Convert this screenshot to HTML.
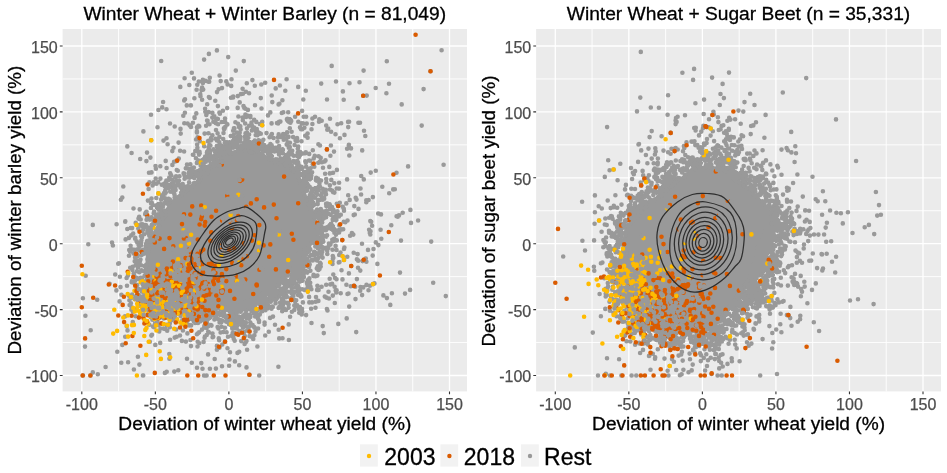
<!DOCTYPE html>
<html><head><meta charset="utf-8"><style>
html,body{margin:0;padding:0;background:#fff;}
svg{display:block;}
text{font-family:"Liberation Sans",Arial,sans-serif;}
.tk{font-size:16px;fill:#4D4D4D;stroke:#4D4D4D;stroke-width:0.25px;}
.tt{font-size:19.2px;fill:#000;stroke:#000;stroke-width:0.3px;}
.at{font-size:19.1px;fill:#000;stroke:#000;stroke-width:0.3px;}
.yt{font-size:18.75px;fill:#000;stroke:#000;stroke-width:0.3px;}
.lg{font-size:23px;fill:#000;stroke:#000;stroke-width:0.3px;}
</style></head><body>
<svg width="947" height="473" viewBox="0 0 947 473">
<defs><clipPath id="c0"><rect x="62.6" y="29.0" width="404.4" height="362.4"/></clipPath><clipPath id="c1"><rect x="536.1" y="29.0" width="404.9" height="362.4"/></clipPath></defs>
<rect x="62.6" y="29.0" width="404.4" height="362.4" fill="#EBEBEB"/>
<path d="M118.57 29.0V391.4M62.6 342.55H467.0M192.11 29.0V391.4M62.6 276.65H467.0M265.65 29.0V391.4M62.6 210.75H467.0M339.19 29.0V391.4M62.6 144.85H467.0M412.73 29.0V391.4M62.6 78.95H467.0" stroke="#FFFFFF" stroke-width="0.9" fill="none"/>
<path d="M81.80 29.0V391.4M62.6 375.50H467.0M155.34 29.0V391.4M62.6 309.60H467.0M228.88 29.0V391.4M62.6 243.70H467.0M302.42 29.0V391.4M62.6 177.80H467.0M375.96 29.0V391.4M62.6 111.90H467.0M449.50 29.0V391.4M62.6 46.00H467.0" stroke="#FFFFFF" stroke-width="1.3" fill="none"/>
<g clip-path="url(#c0)">
<path d="M215.9 161.4L205.9 172.4L205.1 173.1L193.1 183.1L192.8 183.4L181.0 192.3L169.3 202.1L161.1 217.7L160.9 218.0L150.5 236.0L145.9 255.2L145.0 270.4L144.0 289.9L144.7 297.7L155.0 305.3L169.2 307.0L185.5 306.0L186.5 306.0L203.5 307.0L204.1 307.1L204.7 307.2L221.2 310.9L236.8 308.3L252.7 301.7L268.2 294.0L278.7 287.8L286.3 278.5L292.0 268.2L292.3 267.7L299.3 256.7L299.7 256.1L300.1 255.6L300.6 255.1L310.6 246.1L311.6 245.3L318.1 241.0L319.8 234.6L318.2 225.8L315.4 215.5L311.6 206.1L306.7 195.3L306.4 194.5L306.2 193.6L304.4 184.8L299.3 175.5L292.1 166.6L272.0 158.4L271.4 158.1L270.8 157.8L259.2 150.7L240.6 148.2L221.0 153.9L216.7 160.4L216.3 160.9Z" fill="#999999"/>
<path d="M289 117h2v0.5h-2zM288.5 117.5h3v0.5h-3zM288 118h4v0.5h-4zM287 118.5h5.5v0.5h-5.5zM286.5 119h6v0.5h-6zM286 119.5h6.5v0.5h-6.5zM285.5 120h7v0.5h-7zM285.5 120.5h6.5v0.5h-6.5zM285.5 121h6v0.5h-6zM285.5 121.5h5.5v0.5h-5.5zM286 122h4v0.5h-4zM286.5 122.5h3v0.5h-3zM287 123h2v0.5h-2zM253.5 126.5h2.5v0.5h-2.5zM253 127h3.5v0.5h-3.5zM252.5 127.5h4.5v0.5h-4.5zM252 128h5.5v1h-5.5zM252 129h6v0.5h-6zM252 129.5h6.5v0.5h-6.5zM252.5 130h6.5v0.5h-6.5zM253 130.5h7v0.5h-7zM253.5 131h7v0.5h-7zM254 131.5h7v0.5h-7zM254 132h7.5v0.5h-7.5zM254.5 132.5h7v0.5h-7zM255 133h6.5v0.5h-6.5zM255.5 133.5h6v0.5h-6zM237 134h2v0.5h-2zM255 134h6v0.5h-6zM236.5 134.5h3v0.5h-3zM255 134.5h5.5v0.5h-5.5zM236 135h4v0.5h-4zM246 135h2v0.5h-2zM255 135h5v1h-5zM233.5 135.5h7v0.5h-7zM245.5 135.5h3.5v0.5h-3.5zM233 136h7.5v0.5h-7.5zM245 136h4.5v0.5h-4.5zM255.5 136h4v0.5h-4zM232.5 136.5h8v0.5h-8zM244.5 136.5h5.5v0.5h-5.5zM256 136.5h3v0.5h-3zM232 137h8.5v0.5h-8.5zM256.5 137h2v0.5h-2zM232 137.5h8v0.5h-8zM244.5 137h6v1.5h-6zM232 138h7.5v0.5h-7.5zM257.5 138h2v0.5h-2zM232 138.5h7v0.5h-7zM245 138.5h5.5v0.5h-5.5zM257 138.5h3.5v0.5h-3.5zM231.5 139h8v0.5h-8zM244.5 139h5.5v0.5h-5.5zM256.5 139h4.5v0.5h-4.5zM244 139.5h5.5v0.5h-5.5zM256 139.5h6.5v0.5h-6.5zM231 139.5h8.5v1h-8.5zM228.5 140h2v0.5h-2zM243.5 140h7.5v0.5h-7.5zM256 140h7v0.5h-7zM227 140.5h12.5v0.5h-12.5zM243 140.5h8.5v0.5h-8.5zM255.5 140.5h8v0.5h-8zM226.5 141h13v0.5h-13zM242.5 141h9.5v0.5h-9.5zM226 141.5h13v0.5h-13zM242 141.5h10.5v0.5h-10.5zM225.5 142h13v0.5h-13zM241.5 142h11v1h-11zM232.5 142.5h2v0.5h-2zM235 142.5h3v0.5h-3zM241.5 143h11.5v0.5h-11.5zM255 141h9v3h-9zM225.5 142.5h6.5v1.5h-6.5zM240 143.5h13.5v0.5h-13.5zM221 144h2v0.5h-2zM225 144h7.5v0.5h-7.5zM239.5 144h26.5v0.5h-26.5zM267.5 144h2v0.5h-2zM220.5 144.5h3v0.5h-3zM224.5 144.5h8.5v0.5h-8.5zM239 144.5h27.5v0.5h-27.5zM267 144.5h3v0.5h-3zM217.5 145h16v0.5h-16zM238.5 145h32v0.5h-32zM271 145h2v0.5h-2zM277 145h2v0.5h-2zM217 145.5h16.5v0.5h-16.5zM237.5 145.5h36v0.5h-36zM276.5 145.5h3v0.5h-3zM216.5 146h17v0.5h-17zM237 146h37v0.5h-37zM276 146h4v0.5h-4zM236.5 146.5h38v0.5h-38zM275.5 146.5h5v1h-5zM236 147h38.5v0.5h-38.5zM281.5 147h2v0.5h-2zM236 147.5h39v0.5h-39zM275.5 147.5h8.5v0.5h-8.5zM216 146.5h17.5v2h-17.5zM209 148h2v0.5h-2zM236 148h48.5v0.5h-48.5zM208.5 148.5h3v0.5h-3zM215 148.5h18.5v0.5h-18.5zM236 148.5h49v0.5h-49zM206.5 149h5.5v0.5h-5.5zM214.5 149h18.5v0.5h-18.5zM236.5 149h48.5v0.5h-48.5zM206 149.5h6.5v0.5h-6.5zM214 149.5h18.5v0.5h-18.5zM237 149.5h9.5v0.5h-9.5zM205.5 150h7v0.5h-7zM213.5 150h19v0.5h-19zM237 150h9v0.5h-9zM247 149.5h38v1.5h-38zM213.5 150.5h18.5v0.5h-18.5zM237.5 150.5h8v0.5h-8zM288 150.5h2v0.5h-2zM213.5 151h14.5v0.5h-14.5zM228.5 151h3v0.5h-3zM238 151h7v0.5h-7zM247.5 151h37v0.5h-37zM287.5 151h3v0.5h-3zM205 150.5h7.5v1.5h-7.5zM213.5 151.5h14v0.5h-14zM229 151.5h2v0.5h-2zM238.5 151.5h6v0.5h-6zM248 151.5h3v0.5h-3zM252 151.5h4.5v0.5h-4.5zM257.5 151.5h2.5v0.5h-2.5zM261 151.5h12.5v0.5h-12.5zM274.5 151.5h10v0.5h-10zM287 151.5h4v0.5h-4zM205 152h7v0.5h-7zM214 152h11.5v0.5h-11.5zM239 152h3v0.5h-3zM248.5 152h2v0.5h-2zM252.5 152h3.5v0.5h-3.5zM262 152h11.5v0.5h-11.5zM275 152h9.5v0.5h-9.5zM299 152h2v0.5h-2zM286.5 152h5v1h-5zM205.5 152.5h6v0.5h-6zM214 152.5h9.5v0.5h-9.5zM239.5 152.5h2v0.5h-2zM253 152.5h2.5v0.5h-2.5zM262.5 152.5h10.5v0.5h-10.5zM275.5 152.5h9v0.5h-9zM298.5 152.5h3v0.5h-3zM206 153h6v0.5h-6zM214.5 153h9.5v0.5h-9.5zM263 153h9.5v0.5h-9.5zM276.5 153h7.5v0.5h-7.5zM285 153h7v0.5h-7zM298 153h4v0.5h-4zM205.5 153.5h6.5v0.5h-6.5zM215 153.5h9v0.5h-9zM266 153.5h6.5v0.5h-6.5zM277 153.5h6.5v0.5h-6.5zM284.5 153.5h7.5v0.5h-7.5zM297.5 153.5h5v1h-5zM205 154h7v0.5h-7zM212.5 154h11.5v0.5h-11.5zM266 154h7v0.5h-7zM277.5 154h5.5v0.5h-5.5zM284 154h8v0.5h-8zM205 154.5h19v0.5h-19zM266 154.5h7.5v0.5h-7.5zM278 154.5h3v0.5h-3zM283.5 154.5h8.5v0.5h-8.5zM205 155h18.5v0.5h-18.5zM266.5 155h7.5v0.5h-7.5zM283.5 155h8v0.5h-8zM297 154.5h5.5v1.5h-5.5zM205 155.5h18v0.5h-18zM283.5 155.5h7.5v0.5h-7.5zM205 156h17.5v0.5h-17.5zM283 156h7.5v0.5h-7.5zM297 156h5v0.5h-5zM267 155.5h7v1.5h-7zM205.5 156.5h15v0.5h-15zM282.5 156.5h8v0.5h-8zM297.5 156.5h4v0.5h-4zM202.5 157h16.5v0.5h-16.5zM267 157h6.5v0.5h-6.5zM280.5 157h10v0.5h-10zM298 157h3v0.5h-3zM202 157.5h17v0.5h-17zM267.5 157.5h5.5v0.5h-5.5zM280 157.5h10.5v0.5h-10.5zM298.5 157.5h2v0.5h-2zM201.5 158h17v0.5h-17zM268 158h4.5v0.5h-4.5zM279.5 158h11.5v0.5h-11.5zM201 158.5h17.5v0.5h-17.5zM268.5 158.5h3.5v0.5h-3.5zM201 159h18v0.5h-18zM269.5 159h2v0.5h-2zM279 158.5h12.5v1.5h-12.5zM201 159.5h18.5v1h-18.5zM278.5 160h13v0.5h-13zM201.5 160.5h18v0.5h-18zM278 160.5h13v0.5h-13zM202 161h17.5v0.5h-17.5zM278 161h13.5v0.5h-13.5zM201.5 161.5h10v0.5h-10zM212 161.5h7v0.5h-7zM278 161.5h14v1h-14zM201 162h3v0.5h-3zM208 162h4v0.5h-4zM212.5 162h6v0.5h-6zM200.5 162.5h4v0.5h-4zM208.5 162.5h4v0.5h-4zM213 162.5h2v0.5h-2zM216 162.5h2v0.5h-2zM278.5 162.5h13.5v0.5h-13.5zM209 163h4v0.5h-4zM279 163h13v0.5h-13zM279.5 163.5h12.5v0.5h-12.5zM298 163.5h2v0.5h-2zM200 163h5v1.5h-5zM282 164h10v0.5h-10zM297.5 164h3v0.5h-3zM200 164.5h5.5v0.5h-5.5zM284.5 164.5h7.5v0.5h-7.5zM297 164.5h4v0.5h-4zM200.5 165h6.5v0.5h-6.5zM285 165h8v0.5h-8zM296.5 165h5v0.5h-5zM208.5 163.5h5v2.5h-5zM200.5 165.5h7v0.5h-7zM285.5 165.5h8v0.5h-8zM295 165.5h6.5v0.5h-6.5zM200 166h8v0.5h-8zM208.5 166h5.5v0.5h-5.5zM286 166h8v0.5h-8zM294.5 166h7v0.5h-7zM286.5 166.5h15v0.5h-15zM288 167h13v0.5h-13zM288.5 167.5h12v0.5h-12zM200 166.5h14v2h-14zM289 168h11v0.5h-11zM200.5 168.5h13v0.5h-13zM289 168.5h11.5v0.5h-11.5zM196.5 169h2v0.5h-2zM199.5 169h13.5v0.5h-13.5zM289.5 169h11v0.5h-11zM196 169.5h16.5v0.5h-16.5zM290 169.5h10.5v0.5h-10.5zM195.5 170h16v0.5h-16zM305 170h2v0.5h-2zM195 170.5h16.5v0.5h-16.5zM304.5 170.5h3v0.5h-3zM290.5 170h10v1.5h-10zM195 171h16v0.5h-16zM304 171h4v0.5h-4zM207.5 171.5h3v0.5h-3zM291 171.5h10v0.5h-10zM302 171.5h6.5v0.5h-6.5zM195 171.5h12v1h-12zM192.5 172h2v0.5h-2zM208 172h2v0.5h-2zM291.5 172h17v0.5h-17zM309 172h2v0.5h-2zM192 172.5h15v0.5h-15zM292 172.5h19.5v0.5h-19.5zM191.5 173h15.5v0.5h-15.5zM294.5 173h17.5v0.5h-17.5zM191 173.5h15.5v0.5h-15.5zM294 173.5h18.5v0.5h-18.5zM190 174h16v0.5h-16zM293.5 174h19.5v0.5h-19.5zM189.5 174.5h16.5v0.5h-16.5zM189 175h17v0.5h-17zM293.5 174.5h20v1.5h-20zM188.5 175.5h17.5v1h-17.5zM294 176h19.5v0.5h-19.5zM188.5 176.5h17v0.5h-17zM294.5 176.5h18.5v0.5h-18.5zM188.5 177h16.5v0.5h-16.5zM295 177h6v0.5h-6zM301.5 177h11v0.5h-11zM189 177.5h15.5v0.5h-15.5zM296 177.5h4.5v0.5h-4.5zM302 177.5h10.5v1h-10.5zM189.5 178h6v0.5h-6zM196.5 178h7v0.5h-7zM296.5 178h3.5v0.5h-3.5zM190 178.5h5v0.5h-5zM197 178.5h6v0.5h-6zM297 178.5h2.5v0.5h-2.5zM301.5 178.5h11v0.5h-11zM197.5 179h2v0.5h-2zM200.5 179h2v0.5h-2zM299.5 179h13v0.5h-13zM299 179.5h13.5v0.5h-13.5zM298.5 180h13.5v0.5h-13.5zM164.5 180.5h2v0.5h-2zM298 180.5h13.5v0.5h-13.5zM164 181h3v0.5h-3zM309 181h2v0.5h-2zM298 181h10.5v1h-10.5zM163 181.5h4.5v0.5h-4.5zM170.5 181.5h2v0.5h-2zM162.5 182h5.5v0.5h-5.5zM170 182h3.5v0.5h-3.5zM298 182h11v0.5h-11zM162 182.5h6.5v0.5h-6.5zM169.5 182.5h4.5v0.5h-4.5zM192.5 182.5h2v0.5h-2zM161.5 183h13v0.5h-13zM192 183h3v0.5h-3zM298.5 182.5h10.5v1.5h-10.5zM191.5 183.5h4v0.5h-4zM191 184h5v0.5h-5zM298.5 184h10v0.5h-10zM299 184.5h9v0.5h-9zM161.5 183.5h13.5v2h-13.5zM190.5 184.5h5.5v1h-5.5zM299 185h8.5v0.5h-8.5zM317 185h2v0.5h-2zM162 185.5h12.5v0.5h-12.5zM190 185.5h6v0.5h-6zM299.5 185.5h7v0.5h-7zM316.5 185.5h3v0.5h-3zM162.5 186h11.5v0.5h-11.5zM300 186h7v0.5h-7zM314 186h6v0.5h-6zM190 186h5.5v1h-5.5zM162.5 186.5h12v0.5h-12zM300.5 186.5h7v0.5h-7zM313.5 186.5h7v0.5h-7zM162.5 187h12.5v0.5h-12.5zM181.5 187h2v0.5h-2zM190 187h5v0.5h-5zM300.5 187h7.5v0.5h-7.5zM313 187h7.5v0.5h-7.5zM163 187.5h12v0.5h-12zM181 187.5h3v0.5h-3zM190.5 187.5h4v0.5h-4zM312.5 187.5h8v1h-8zM163.5 188h11.5v0.5h-11.5zM180.5 188h4v0.5h-4zM191 188h3v0.5h-3zM164 188.5h11v0.5h-11zM180 188.5h5v0.5h-5zM191.5 188.5h2v0.5h-2zM312.5 188.5h7.5v0.5h-7.5zM300.5 187.5h8v2h-8zM165 189h9.5v0.5h-9.5zM180 189h6v0.5h-6zM312.5 189h7v0.5h-7zM167 189.5h3v0.5h-3zM171 189.5h3.5v0.5h-3.5zM180 189.5h6.5v0.5h-6.5zM313 189.5h6v0.5h-6zM167.5 190h2v0.5h-2zM171.5 190h3.5v0.5h-3.5zM180 190h7v0.5h-7zM313.5 190h5v1h-5zM171.5 190.5h4v0.5h-4zM180 190.5h7.5v0.5h-7.5zM300.5 189.5h7.5v2h-7.5zM179.5 191h8v0.5h-8zM310 191h2v0.5h-2zM314 191h4v0.5h-4zM300.5 191.5h7v0.5h-7zM309.5 191.5h3v0.5h-3zM314.5 191.5h3v0.5h-3zM179 191.5h8.5v1h-8.5zM301 192h6v0.5h-6zM309 192h4v0.5h-4zM315 192h2v0.5h-2zM171 191h5v2h-5zM179 192.5h8v0.5h-8zM301.5 192.5h5v0.5h-5zM308.5 192.5h5v1h-5zM171.5 193h4v0.5h-4zM179 193h7.5v0.5h-7.5zM302 193h2.5v0.5h-2.5zM172 193.5h3v0.5h-3zM179.5 193.5h6.5v0.5h-6.5zM308 193.5h6v0.5h-6zM172.5 194h2v0.5h-2zM180 194h4v0.5h-4zM308 194h6.5v0.5h-6.5zM180.5 194.5h2v0.5h-2zM307.5 194.5h7.5v1.5h-7.5zM307 196h8v0.5h-8zM164.5 196.5h2.5v0.5h-2.5zM167.5 196.5h2v0.5h-2zM307 196.5h7.5v0.5h-7.5zM164 197h6v0.5h-6zM307 197h7v1h-7zM163.5 197.5h7v0.5h-7zM307.5 198h6.5v0.5h-6.5zM308 198.5h6v0.5h-6zM306.5 199h7.5v0.5h-7.5zM163 198h8v2h-8zM306 199.5h7.5v0.5h-7.5zM163.5 200h7.5v0.5h-7.5zM305.5 200h8.5v0.5h-8.5zM163.5 200.5h7v0.5h-7zM305 200.5h9.5v0.5h-9.5zM163.5 201h7.5v0.5h-7.5zM163.5 201.5h8v0.5h-8zM305 201h10v1.5h-10zM157 202h2v0.5h-2zM156.5 202.5h3v0.5h-3zM305.5 202.5h9.5v0.5h-9.5zM328 202.5h2.5v0.5h-2.5zM164 202h7.5v1.5h-7.5zM156 203h4v0.5h-4zM327 203h4v0.5h-4zM164.5 203.5h6.5v0.5h-6.5zM326.5 203.5h5v0.5h-5zM155.5 203.5h5v1h-5zM165 204h5.5v0.5h-5.5zM326 204h6v0.5h-6zM306 203h9.5v2h-9.5zM155.5 204.5h6v0.5h-6zM165.5 204.5h4.5v0.5h-4.5zM325.5 204.5h6.5v1h-6.5zM155.5 205h6.5v0.5h-6.5zM166 205h3v0.5h-3zM306.5 205h9v0.5h-9zM155.5 205.5h7v0.5h-7zM166.5 205.5h2v0.5h-2zM307 205.5h8.5v0.5h-8.5zM325.5 205.5h7v0.5h-7zM155.5 206h7.5v0.5h-7.5zM307.5 206h8v0.5h-8zM325.5 206h7.5v0.5h-7.5zM308 206.5h7v0.5h-7zM326 206.5h7.5v0.5h-7.5zM308 207h6.5v0.5h-6.5zM326.5 207h7.5v0.5h-7.5zM155 206.5h8v1.5h-8zM308.5 207.5h5.5v0.5h-5.5zM327 207.5h7.5v0.5h-7.5zM155 208h7.5v0.5h-7.5zM309 208h4v0.5h-4zM328 208h7v0.5h-7zM155 208.5h8v0.5h-8zM309.5 208.5h2v0.5h-2zM328.5 208.5h7v0.5h-7zM155.5 209h8v0.5h-8zM329 209h6.5v0.5h-6.5zM156 209.5h8v0.5h-8zM316.5 209.5h4v0.5h-4zM329.5 209.5h6v0.5h-6zM156.5 210h2v0.5h-2zM311 210h2v0.5h-2zM316 210h5v0.5h-5zM330.5 210h5v0.5h-5zM159 210h5v1h-5zM310.5 210.5h3v0.5h-3zM315.5 210.5h6v0.5h-6zM331 210.5h4v0.5h-4zM159 211h7.5v0.5h-7.5zM310 211h4v0.5h-4zM315 211h7v0.5h-7zM331.5 211h3v0.5h-3zM159.5 211.5h7.5v0.5h-7.5zM309.5 211.5h5v0.5h-5zM315 211.5h7.5v0.5h-7.5zM332 211.5h2v0.5h-2zM159 212h8.5v0.5h-8.5zM309.5 212h13.5v0.5h-13.5zM158.5 212.5h9.5v0.5h-9.5zM309.5 212.5h14v0.5h-14zM158 213h10v0.5h-10zM309.5 213h14.5v0.5h-14.5zM157.5 213.5h10.5v0.5h-10.5zM309.5 213.5h15v0.5h-15zM157 214h11v0.5h-11zM310 214h14.5v0.5h-14.5zM334.5 214h2v0.5h-2zM156.5 214.5h11.5v0.5h-11.5zM310.5 214.5h14v0.5h-14zM334 214.5h3v0.5h-3zM156 215h11.5v0.5h-11.5zM311 215h13.5v0.5h-13.5zM333.5 215h4v0.5h-4zM311.5 215.5h12.5v0.5h-12.5zM155.5 215.5h12v1h-12zM312 216h11.5v0.5h-11.5zM155.5 216.5h11.5v0.5h-11.5zM333 215.5h5v2h-5zM155.5 217h11v0.5h-11zM156 217.5h10v0.5h-10zM333.5 217.5h4v0.5h-4zM312.5 216.5h11.5v2h-11.5zM156.5 218h7v0.5h-7zM334 218h3.5v0.5h-3.5zM156 218.5h7.5v0.5h-7.5zM313 218.5h10.5v0.5h-10.5zM334 218.5h4v0.5h-4zM155.5 219h8.5v0.5h-8.5zM313.5 219h9.5v0.5h-9.5zM153 219.5h11v0.5h-11zM314 219.5h2v0.5h-2zM317 219.5h6v0.5h-6zM152.5 220h11.5v0.5h-11.5zM317.5 220h5.5v0.5h-5.5zM333.5 219h5v2h-5zM152 220.5h12v0.5h-12zM318 220.5h5v0.5h-5zM318.5 221h4v0.5h-4zM334 221h4v0.5h-4zM319 221.5h3v0.5h-3zM334.5 221.5h3v0.5h-3zM319.5 222h2v0.5h-2zM335 222h2v0.5h-2zM151.5 221h12v2h-12zM329 222.5h2v0.5h-2zM151.5 223h11.5v0.5h-11.5zM328.5 223h3v0.5h-3zM152 223.5h10.5v0.5h-10.5zM328 223.5h5.5v0.5h-5.5zM152.5 224h9.5v0.5h-9.5zM327.5 224h6.5v0.5h-6.5zM153 224.5h2.5v0.5h-2.5zM156.5 224.5h5.5v0.5h-5.5zM327.5 224.5h7v0.5h-7zM157 225h5v0.5h-5zM157.5 225.5h4v0.5h-4zM327.5 225h7.5v1.5h-7.5zM158 226h3v0.5h-3zM148.5 226.5h2v0.5h-2zM158.5 226.5h2v0.5h-2zM322 226.5h2v0.5h-2zM327 226.5h8v0.5h-8zM148 227h3v0.5h-3zM319 227h2v0.5h-2zM321.5 227h3v0.5h-3zM326.5 227h9v0.5h-9zM147.5 227.5h4v0.5h-4zM318.5 227.5h6.5v0.5h-6.5zM318 228h7.5v0.5h-7.5zM326.5 227.5h9.5v1.5h-9.5zM327 229h9v0.5h-9zM147 228h5v2h-5zM327.5 229.5h8v0.5h-8zM317.5 228.5h8v2h-8zM147.5 230h4v0.5h-4zM328 230h7.5v0.5h-7.5zM148 230.5h3v0.5h-3zM318 230.5h7v0.5h-7zM330 230.5h5v0.5h-5zM148.5 231h2v0.5h-2zM318.5 231h6v0.5h-6zM331 231h3.5v0.5h-3.5zM319 231.5h2v0.5h-2zM322 231.5h2v0.5h-2zM331.5 231.5h2.5v0.5h-2.5zM319 235.5h2.5v0.5h-2.5zM318.5 236h3.5v0.5h-3.5zM318 236.5h4.5v0.5h-4.5zM317.5 237h6v0.5h-6zM317.5 237.5h6.5v0.5h-6.5zM317.5 238h7v0.5h-7zM149 239.5h2v0.5h-2zM148.5 240h3v0.5h-3zM317 238.5h8v2.5h-8zM148 240.5h4v0.5h-4zM145.5 241h7v0.5h-7zM317 241h7.5v0.5h-7.5zM145 241.5h7.5v0.5h-7.5zM317.5 241.5h6.5v0.5h-6.5zM144.5 242h8v0.5h-8zM144 242.5h8.5v0.5h-8.5zM144 243h8v0.5h-8zM317.5 242h6v2h-6zM318 244h5v0.5h-5zM144 243.5h8.5v1.5h-8.5zM318.5 244.5h4v0.5h-4zM143.5 245h9v0.5h-9zM306 245.5h2.5v0.5h-2.5zM305.5 246h3.5v0.5h-3.5zM305 246.5h4.5v0.5h-4.5zM318 245h5v2.5h-5zM143.5 245.5h8.5v2.5h-8.5zM318.5 247.5h4v0.5h-4zM143.5 248h8v0.5h-8zM319 248h3v0.5h-3zM143.5 248.5h7.5v0.5h-7.5zM319.5 248.5h2v0.5h-2zM304.5 247h5.5v2.5h-5.5zM143.5 249h7v0.5h-7zM143 249.5h7.5v0.5h-7.5zM305 249.5h5v0.5h-5zM301.5 250h2v0.5h-2zM142.5 250h8v1h-8zM301 250.5h3v0.5h-3zM305 250h5.5v1.5h-5.5zM142.5 251h7.5v0.5h-7.5zM298 251h2v0.5h-2zM300.5 251h4v0.5h-4zM142.5 251.5h7v0.5h-7zM297.5 251.5h13v0.5h-13zM143 252h6v0.5h-6zM297 252h13.5v0.5h-13.5zM143.5 252.5h3v0.5h-3zM305.5 252.5h4.5v0.5h-4.5zM144 253h2v0.5h-2zM306 253h3.5v0.5h-3.5zM296.5 252.5h8.5v1.5h-8.5zM306.5 253.5h2.5v0.5h-2.5zM295.5 254h9v0.5h-9zM295 254.5h9v0.5h-9zM294.5 255h9v0.5h-9zM294 255.5h10v1.5h-10zM293.5 257h10.5v0.5h-10.5zM293 257.5h11v0.5h-11zM306 258h2.5v0.5h-2.5zM293 258h10.5v1h-10.5zM305.5 258.5h3.5v0.5h-3.5zM293 259h16.5v0.5h-16.5zM293.5 259.5h16.5v0.5h-16.5zM294 260h16v1h-16zM293 261h17v0.5h-17zM292.5 261.5h17v0.5h-17zM291.5 262h17.5v0.5h-17.5zM291 262.5h17.5v0.5h-17.5zM290.5 263h16.5v0.5h-16.5zM290 263.5h17.5v0.5h-17.5zM290 264h18v1h-18zM289.5 265h18.5v0.5h-18.5zM289 265.5h19v0.5h-19zM288.5 266h19v0.5h-19zM288.5 266.5h18.5v0.5h-18.5zM288.5 267h18v0.5h-18zM288.5 267.5h17.5v0.5h-17.5zM288.5 268h17v0.5h-17zM288.5 268.5h16.5v0.5h-16.5zM289 269h16v0.5h-16zM289.5 269.5h15.5v0.5h-15.5zM290 270h15v1h-15zM290 271h14.5v1h-14.5zM290.5 272h14v0.5h-14zM290 272.5h14.5v0.5h-14.5zM289.5 273h15v0.5h-15zM289 273.5h15v0.5h-15zM289 274h14.5v0.5h-14.5zM289 274.5h14v0.5h-14zM289 275h13v0.5h-13zM289 275.5h13.5v0.5h-13.5zM282 276h2v0.5h-2zM289.5 276h13.5v0.5h-13.5zM281.5 276.5h3v0.5h-3zM290 276.5h13v0.5h-13zM281 277h4v0.5h-4zM289.5 277h13.5v0.5h-13.5zM280.5 277.5h6v0.5h-6zM289 277.5h14v1h-14zM280.5 278h6.5v0.5h-6.5zM280.5 278.5h7.5v0.5h-7.5zM289 278.5h14.5v0.5h-14.5zM280.5 279h23.5v0.5h-23.5zM280.5 279.5h24v0.5h-24zM280 280h24.5v0.5h-24.5zM280 280.5h16v0.5h-16zM296.5 280.5h8v0.5h-8zM297 281h7.5v0.5h-7.5zM280 281h16.5v1h-16.5zM297.5 281.5h6.5v0.5h-6.5zM298 282h5.5v0.5h-5.5zM280.5 282h16v1h-16zM301 282.5h2v0.5h-2zM281 283h15v0.5h-15zM281.5 283.5h14.5v1h-14.5zM282 284.5h13.5v0.5h-13.5zM282.5 285h12.5v0.5h-12.5zM283 285.5h11.5v0.5h-11.5zM272.5 286h2v0.5h-2zM282.5 286h11.5v0.5h-11.5zM298 286h2v0.5h-2zM272 286.5h3.5v0.5h-3.5zM282 286.5h11.5v0.5h-11.5zM297.5 286.5h3v0.5h-3zM142 287h2v0.5h-2zM271.5 287h4.5v0.5h-4.5zM282 287h11v0.5h-11zM297 287h4v0.5h-4zM141.5 287.5h3v0.5h-3zM270 287.5h6.5v0.5h-6.5zM280.5 287.5h8.5v0.5h-8.5zM289.5 287.5h3v0.5h-3zM296.5 287.5h5v1h-5zM141 288h4v0.5h-4zM269.5 288h7.5v0.5h-7.5zM280 288h8.5v0.5h-8.5zM290 288h2v0.5h-2zM269 288.5h9v0.5h-9zM279.5 288.5h8.5v0.5h-8.5zM296 288.5h5.5v1h-5.5zM268.5 289h10v0.5h-10zM279 289h9v0.5h-9zM268.5 289.5h19v0.5h-19zM290 289.5h5.5v0.5h-5.5zM296 289.5h5v0.5h-5zM140.5 288.5h5v2h-5zM268.5 290h18.5v0.5h-18.5zM289.5 290h11.5v0.5h-11.5zM141 290.5h4v0.5h-4zM289 290.5h11.5v0.5h-11.5zM268.5 290.5h18v1h-18zM141.5 291h3v0.5h-3zM288.5 291h11.5v0.5h-11.5zM142 291.5h2v0.5h-2zM261.5 291.5h4.5v0.5h-4.5zM267 291.5h19.5v0.5h-19.5zM297.5 291.5h2v0.5h-2zM261 292h25.5v0.5h-25.5zM288.5 291.5h8.5v1.5h-8.5zM260.5 292.5h26v0.5h-26zM260 293h27v0.5h-27zM289 293h8v0.5h-8zM138 293.5h2v0.5h-2zM259.5 293.5h28v0.5h-28zM289.5 293.5h7v0.5h-7zM137.5 294h3v0.5h-3zM259 294h29v0.5h-29zM289.5 294h6.5v0.5h-6.5zM137 294.5h6.5v0.5h-6.5zM258 294.5h30v0.5h-30zM290 294.5h5.5v0.5h-5.5zM136.5 295h7.5v0.5h-7.5zM257.5 295h30.5v0.5h-30.5zM136.5 295.5h8v0.5h-8zM257 295.5h31v0.5h-31zM256.5 296h12.5v0.5h-12.5zM269.5 296h11v0.5h-11zM281.5 296h6.5v0.5h-6.5zM290.5 295h5v2h-5zM136.5 296h8.5v1h-8.5zM256.5 296.5h11v0.5h-11zM268 296.5h12v0.5h-12zM281.5 296.5h6v0.5h-6zM137 297h8v0.5h-8zM251.5 297h19v0.5h-19zM271.5 297h8v0.5h-8zM281.5 297h5.5v0.5h-5.5zM291 297h4v0.5h-4zM251 297.5h20v0.5h-20zM271.5 297.5h7.5v0.5h-7.5zM291.5 297.5h3v0.5h-3zM136.5 297.5h8.5v1h-8.5zM281.5 297.5h5v1h-5zM250 298h29v0.5h-29zM292 298h2v0.5h-2zM136.5 298.5h8v0.5h-8zM249.5 298.5h29.5v0.5h-29.5zM282 298.5h4v0.5h-4zM136.5 299h7.5v0.5h-7.5zM246.5 299h32.5v0.5h-32.5zM282.5 299h3v0.5h-3zM137 299.5h6.5v0.5h-6.5zM245.5 299.5h33v0.5h-33zM283 299.5h2v0.5h-2zM137.5 300h6v0.5h-6zM244 300h34v0.5h-34zM138 300.5h5v0.5h-5zM243.5 300.5h29.5v0.5h-29.5zM275 300.5h2.5v0.5h-2.5zM139.5 301h3v0.5h-3zM159.5 301h2.5v0.5h-2.5zM243 301h30v0.5h-30zM140 301.5h2v0.5h-2zM159 301.5h3.5v0.5h-3.5zM185 301.5h5.5v0.5h-5.5zM241 301.5h32v0.5h-32zM158.5 302h4.5v0.5h-4.5zM172.5 302h2v0.5h-2zM179 302h2v0.5h-2zM184.5 302h9v0.5h-9zM202.5 302h2v0.5h-2zM240.5 302h32v0.5h-32zM158 302.5h7.5v0.5h-7.5zM169 302.5h2v0.5h-2zM172 302.5h3v0.5h-3zM178.5 302.5h3v0.5h-3zM182.5 302.5h11.5v0.5h-11.5zM202 302.5h3v0.5h-3zM240 302.5h32v0.5h-32zM157.5 303h8.5v0.5h-8.5zM168.5 303h7v0.5h-7zM178 303h16.5v0.5h-16.5zM199.5 303h7v0.5h-7zM239.5 303h32v0.5h-32zM280 303h2.5v0.5h-2.5zM156.5 303.5h10v0.5h-10zM167 303.5h9v0.5h-9zM177 303.5h18v0.5h-18zM199 303.5h8v0.5h-8zM236.5 303.5h2v0.5h-2zM239.5 303.5h30v0.5h-30zM279.5 303.5h3.5v0.5h-3.5zM156 304h20v0.5h-20zM176.5 304h20.5v0.5h-20.5zM197.5 304h10v0.5h-10zM233 304h2v0.5h-2zM236 304h34v0.5h-34zM279 304h4.5v0.5h-4.5zM155.5 304.5h52.5v0.5h-52.5zM231 304.5h39.5v0.5h-39.5zM155 305h53v0.5h-53zM228 305h43v0.5h-43zM153.5 305.5h55v0.5h-55zM224.5 305.5h2v0.5h-2zM227 305.5h30.5v0.5h-30.5zM258 305.5h13v0.5h-13zM298 305.5h2.5v0.5h-2.5zM153 306h56v0.5h-56zM222 306h35.5v0.5h-35.5zM297.5 306h3.5v0.5h-3.5zM278.5 304.5h5.5v2.5h-5.5zM258.5 306h12.5v1h-12.5zM152.5 306.5h22.5v0.5h-22.5zM175.5 306.5h34v0.5h-34zM211.5 306.5h2v0.5h-2zM221.5 306.5h35.5v0.5h-35.5zM297 306.5h4.5v0.5h-4.5zM152 307h22.5v0.5h-22.5zM176 307h33.5v0.5h-33.5zM211 307h3v0.5h-3zM221 307h36.5v0.5h-36.5zM279 307h4.5v0.5h-4.5zM258.5 307h12v1h-12zM152 307.5h23v0.5h-23zM176.5 307.5h33v0.5h-33zM210.5 307.5h4.5v0.5h-4.5zM279.5 307.5h3.5v0.5h-3.5zM151.5 308h24v0.5h-24zM210 308h5.5v0.5h-5.5zM259 308h11.5v0.5h-11.5zM280 308h2.5v0.5h-2.5zM177 308h32.5v1h-32.5zM210 308.5h6v0.5h-6zM259.5 308.5h11v0.5h-11zM296.5 307h5.5v2.5h-5.5zM220.5 307.5h37.5v2h-37.5zM151 308.5h24.5v1h-24.5zM177 309h32v0.5h-32zM260 309h10v0.5h-10zM210 309h6.5v1h-6.5zM151 309.5h16v0.5h-16zM167.5 309.5h8v0.5h-8zM177.5 309.5h31v0.5h-31zM221 309.5h37v0.5h-37zM262.5 309.5h7v0.5h-7zM297 309.5h4.5v0.5h-4.5zM150.5 310h7.5v0.5h-7.5zM158.5 310h8v0.5h-8zM168 310h7v0.5h-7zM178 310h7.5v0.5h-7.5zM186 310h22v0.5h-22zM210 310h7v0.5h-7zM221 310h36.5v0.5h-36.5zM263 310h6v0.5h-6zM297.5 310h3.5v0.5h-3.5zM150 310.5h6.5v0.5h-6.5zM158.5 310.5h6.5v0.5h-6.5zM168.5 310.5h6v0.5h-6zM178.5 310.5h6.5v0.5h-6.5zM186.5 310.5h21.5v0.5h-21.5zM221.5 310.5h35.5v0.5h-35.5zM264.5 310.5h2v0.5h-2zM298 310.5h2.5v0.5h-2.5zM149.5 311h7v0.5h-7zM159 311h4v0.5h-4zM169 311h5v0.5h-5zM179.5 311h4v0.5h-4zM187 311h21v0.5h-21zM221 311h23v0.5h-23zM249.5 311h4v0.5h-4zM254.5 311h2v0.5h-2zM149 311.5h7v0.5h-7zM159.5 311.5h3v0.5h-3zM169.5 311.5h4v0.5h-4zM180 311.5h3v0.5h-3zM188.5 311.5h20v0.5h-20zM219.5 311.5h23.5v0.5h-23.5zM250 311.5h3v0.5h-3zM209.5 310.5h7.5v2h-7.5zM149 312h6.5v0.5h-6.5zM160 312h2v0.5h-2zM174.5 312h2.5v0.5h-2.5zM180.5 312h2v0.5h-2zM188.5 312h20.5v0.5h-20.5zM219 312h7v0.5h-7zM227.5 312h15.5v0.5h-15.5zM245 312h2v0.5h-2zM250.5 312h2v0.5h-2zM149 312.5h6v0.5h-6zM174 312.5h3.5v0.5h-3.5zM188.5 312.5h21v0.5h-21zM210 312.5h7v0.5h-7zM218.5 312.5h7.5v0.5h-7.5zM228 312.5h3v0.5h-3zM231.5 312.5h11v0.5h-11zM243 312.5h4.5v0.5h-4.5zM149 313h5v0.5h-5zM173.5 313h4.5v0.5h-4.5zM188.5 313h21.5v0.5h-21.5zM210.5 313h6v0.5h-6zM218 313h7.5v0.5h-7.5zM228.5 313h13.5v0.5h-13.5zM242.5 313h5.5v0.5h-5.5zM149.5 313.5h4v0.5h-4zM189 313.5h27v0.5h-27zM218 313.5h8v0.5h-8zM227.5 313.5h9.5v0.5h-9.5zM239.5 313.5h2v0.5h-2zM242 313.5h6.5v0.5h-6.5zM150 314h3v0.5h-3zM164.5 314h2v0.5h-2zM168.5 314h2.5v0.5h-2.5zM189.5 314h27v0.5h-27zM218 314h8.5v0.5h-8.5zM227 314h10v0.5h-10zM241.5 314h7v0.5h-7zM150.5 314.5h2v0.5h-2zM164 314.5h3.5v0.5h-3.5zM168 314.5h3.5v0.5h-3.5zM190 314.5h9v0.5h-9zM218 314.5h19.5v0.5h-19.5zM238 314.5h2v0.5h-2zM241 314.5h7.5v0.5h-7.5zM173 313.5h5.5v2h-5.5zM200.5 314.5h16.5v1h-16.5zM163.5 315h8.5v0.5h-8.5zM190.5 315h9v0.5h-9zM218 315h30.5v0.5h-30.5zM163 315.5h15v0.5h-15zM191 315.5h9v0.5h-9zM201 315.5h16v0.5h-16zM218.5 315.5h30v0.5h-30zM163 316h14.5v0.5h-14.5zM191.5 316h9v0.5h-9zM201.5 316h15.5v0.5h-15.5zM219 316h29v0.5h-29zM163 316.5h14v0.5h-14zM192 316.5h24.5v0.5h-24.5zM219.5 316.5h28v0.5h-28zM163 317h12v0.5h-12zM192 317h24v0.5h-24zM221.5 317h25.5v0.5h-25.5zM163.5 317.5h11.5v0.5h-11.5zM213.5 317.5h2v0.5h-2zM192 317.5h20.5v1h-20.5zM224 317.5h21v1h-21zM164 318h11v0.5h-11zM164.5 318.5h10.5v0.5h-10.5zM192.5 318.5h19.5v0.5h-19.5zM224 318.5h20.5v0.5h-20.5zM165.5 319h9v0.5h-9zM193 319h18.5v0.5h-18.5zM224.5 319h19.5v0.5h-19.5zM167.5 319.5h7v0.5h-7zM193.5 319.5h17.5v0.5h-17.5zM233.5 319.5h10.5v0.5h-10.5zM225 319.5h8v1h-8zM168 320h6.5v0.5h-6.5zM195 320h15v0.5h-15zM233.5 320h11v0.5h-11zM168.5 320.5h5.5v0.5h-5.5zM195 320.5h14.5v0.5h-14.5zM225.5 320.5h19.5v0.5h-19.5zM170.5 321h3v0.5h-3zM195 321h13.5v0.5h-13.5zM226 321h20v0.5h-20zM171 321.5h2v0.5h-2zM195 321.5h13v0.5h-13zM226.5 321.5h20v0.5h-20zM195.5 322h7v0.5h-7zM203.5 322h4v0.5h-4zM227.5 322h19.5v0.5h-19.5zM196 322.5h6v0.5h-6zM204 322.5h2.5v0.5h-2.5zM228 322.5h19.5v0.5h-19.5zM196.5 323h5v0.5h-5zM229.5 323h18v1h-18zM229 324h18.5v0.5h-18.5zM229 324.5h10.5v0.5h-10.5zM240 324.5h7v0.5h-7zM229 325h10v0.5h-10zM240 325h7.5v0.5h-7.5zM240.5 325.5h7v0.5h-7zM229 325.5h6.5v1h-6.5zM241 326h6.5v0.5h-6.5zM229.5 326.5h5.5v0.5h-5.5zM241.5 326.5h6v0.5h-6zM230 327h4.5v0.5h-4.5zM243 327h4v0.5h-4zM230.5 327.5h3.5v0.5h-3.5zM243.5 327.5h3v0.5h-3zM244 328h2v0.5h-2z" fill="#999999"/>
<path d="M161.2 61.0h0M191.8 72.7h0M184.6 78.2h0M216.9 50.4h0M228.2 57.1h0M194.0 78.4h0M208.9 53.9h0M209.8 77.7h0M204.1 59.6h0M219.6 75.5h0M243.8 61.1h0M235.8 70.6h0M331.7 65.9h0M363.6 70.6h0M386.8 61.3h0M441.6 50.2h0M430.5 71.3h0M190.9 105.4h0M189.3 85.0h0M166.5 109.3h0M163.1 102.0h0M162.2 107.4h0M185.0 99.2h0M180.3 86.9h0M186.8 105.4h0M158.4 110.0h0M184.2 100.4h0M209.8 97.9h0M200.5 96.3h0M218.6 89.3h0M215.3 100.8h0M203.2 89.6h0M217.0 92.1h0M208.4 81.8h0M205.1 108.7h0M196.6 89.7h0M202.9 82.9h0M220.7 81.1h0M205.3 111.8h0M197.3 84.7h0M202.8 79.9h0M205.7 80.7h0M227.2 108.0h0M226.3 81.4h0M227.6 84.4h0M222.0 88.1h0M194.4 98.2h0M217.9 106.1h0M202.1 87.5h0M198.8 81.6h0M207.2 104.3h0M208.9 97.0h0M202.1 99.7h0M209.2 81.8h0M222.9 110.7h0M201.5 90.1h0M200.3 94.3h0M252.4 80.1h0M255.0 105.2h0M237.7 107.9h0M254.8 85.7h0M242.6 88.7h0M240.9 94.1h0M265.2 82.7h0M246.8 83.3h0M245.9 91.7h0M231.2 85.9h0M243.5 106.0h0M245.2 108.6h0M242.9 93.7h0M249.1 93.3h0M261.5 108.5h0M239.7 102.4h0M261.3 84.5h0M260.8 98.1h0M237.8 96.1h0M244.2 107.7h0M233.1 97.5h0M231.0 97.7h0M247.9 109.9h0M231.5 79.2h0M233.2 96.6h0M271.7 95.5h0M279.9 85.5h0M302.1 110.9h0M275.7 88.4h0M279.4 103.8h0M278.6 104.4h0M286.6 79.2h0M285.3 90.8h0M282.4 100.2h0M272.3 102.1h0M298.2 86.9h0M336.0 81.5h0M327.0 99.5h0M305.8 90.7h0M321.2 83.6h0M303.3 99.5h0M343.7 99.8h0M366.7 95.6h0M357.7 108.3h0M359.5 82.3h0M342.9 91.4h0M375.7 88.0h0M349.5 83.3h0M363.2 95.7h0M401.7 104.4h0M389.0 83.8h0M386.4 93.2h0M423.6 89.1h0M151.0 114.8h0M151.2 140.2h0M143.4 131.4h0M180.5 128.9h0M167.6 144.3h0M184.3 123.2h0M187.6 123.5h0M189.7 125.4h0M191.0 126.9h0M178.6 142.6h0M166.5 138.2h0M157.5 127.3h0M180.7 133.6h0M184.9 112.7h0M183.3 115.8h0M163.5 140.6h0M174.7 126.5h0M170.0 123.5h0M212.3 117.6h0M216.4 118.9h0M204.6 133.6h0M196.9 131.2h0M217.5 119.0h0M218.1 124.3h0M194.6 118.0h0M221.8 122.0h0M227.4 124.4h0M206.3 115.0h0M217.9 119.0h0M216.9 140.4h0M213.4 121.7h0M219.3 142.2h0M196.9 132.4h0M208.5 133.2h0M196.1 139.5h0M196.3 113.4h0M225.5 142.3h0M197.1 144.5h0M219.4 136.9h0M219.4 112.6h0M211.1 138.0h0M225.0 118.5h0M211.5 139.7h0M199.3 126.4h0M219.9 113.7h0M215.7 123.1h0M208.6 112.1h0M223.9 128.2h0M212.4 112.9h0M194.5 117.3h0M207.1 120.5h0M214.3 116.2h0M206.1 125.7h0M212.4 135.4h0M216.0 130.0h0M215.8 138.8h0M207.6 120.9h0M208.6 140.9h0M224.6 128.5h0M224.1 129.3h0M209.5 124.3h0M225.1 122.0h0M199.9 141.3h0M198.4 125.8h0M223.5 133.0h0M225.3 126.7h0M192.9 122.7h0M197.0 127.4h0M260.8 133.8h0M256.3 131.3h0M254.8 140.5h0M262.2 121.9h0M250.3 117.2h0M251.9 130.4h0M256.8 129.0h0M238.0 123.7h0M245.2 123.5h0M233.9 128.3h0M250.4 116.1h0M236.8 132.6h0M238.7 134.0h0M230.7 136.0h0M245.3 139.0h0M240.3 126.2h0M242.7 117.5h0M239.4 137.1h0M262.2 125.2h0M234.4 128.4h0M254.1 127.5h0M246.1 116.9h0M240.3 141.4h0M240.6 129.4h0M254.2 119.8h0M249.1 134.5h0M233.6 135.1h0M240.3 138.9h0M245.4 114.6h0M247.7 134.0h0M239.0 126.9h0M251.8 125.3h0M249.2 125.8h0M247.0 128.3h0M251.5 122.5h0M242.8 120.2h0M253.1 127.8h0M244.8 136.8h0M247.8 115.7h0M245.1 116.8h0M247.0 132.5h0M235.4 122.2h0M233.2 130.7h0M259.9 124.0h0M240.3 136.8h0M238.4 116.5h0M266.5 133.1h0M298.3 121.7h0M287.1 132.4h0M271.6 123.4h0M301.1 129.3h0M270.3 112.4h0M285.3 134.0h0M281.8 113.0h0M283.2 134.1h0M283.7 139.7h0M289.6 121.9h0M278.0 137.2h0M302.3 129.2h0M300.0 127.4h0M297.2 140.9h0M286.7 144.6h0M283.3 112.2h0M291.2 121.1h0M277.5 141.5h0M269.6 137.2h0M297.1 138.9h0M279.2 121.7h0M301.6 123.4h0M286.9 119.2h0M287.7 142.2h0M290.4 122.7h0M291.6 131.8h0M283.6 136.0h0M277.0 123.1h0M287.4 118.7h0M280.5 136.9h0M301.5 141.3h0M288.2 112.2h0M268.0 115.4h0M293.1 137.1h0M289.9 142.7h0M295.1 116.8h0M280.4 121.6h0M295.6 140.6h0M297.0 138.0h0M289.8 128.2h0M271.3 135.0h0M278.1 123.5h0M306.1 116.7h0M303.7 116.8h0M304.4 127.8h0M337.5 124.2h0M331.1 131.8h0M321.7 120.7h0M319.3 119.2h0M319.0 121.7h0M307.6 137.8h0M318.4 144.2h0M326.2 125.6h0M335.5 134.3h0M315.0 116.7h0M312.4 118.5h0M327.3 129.7h0M307.6 133.5h0M306.7 123.6h0M302.9 123.4h0M312.4 124.0h0M330.0 118.7h0M328.2 128.5h0M311.5 129.3h0M365.3 136.0h0M348.1 121.9h0M348.2 127.1h0M364.0 130.8h0M341.2 123.3h0M348.9 144.8h0M339.9 138.3h0M344.5 134.9h0M358.4 122.8h0M349.1 121.7h0M360.0 122.7h0M421.7 125.6h0M149.0 172.7h0M147.0 152.6h0M150.4 157.6h0M127.3 146.4h0M140.2 159.0h0M151.5 172.4h0M146.4 161.1h0M131.6 153.0h0M178.8 158.5h0M166.6 168.0h0M174.1 161.8h0M175.3 177.4h0M176.0 161.3h0M180.1 150.8h0M179.5 176.2h0M160.3 166.2h0M170.2 173.3h0M155.5 166.1h0M169.3 177.5h0M184.1 151.5h0M187.0 164.5h0M172.4 164.9h0M177.2 160.6h0M172.3 151.1h0M155.9 168.7h0M177.8 170.7h0M176.8 170.0h0M171.2 175.4h0M186.9 177.3h0M165.7 160.9h0M183.6 173.2h0M176.1 176.3h0M173.5 147.7h0M191.6 174.1h0M188.6 176.3h0M196.9 162.9h0M193.4 154.8h0M208.5 170.7h0M196.7 151.3h0M198.4 160.6h0M210.2 151.2h0M214.3 165.9h0M204.2 146.2h0M200.0 170.0h0M205.8 161.8h0M202.2 160.2h0M215.0 152.0h0M192.9 154.8h0M207.5 173.2h0M213.0 163.6h0M215.7 152.3h0M223.1 154.2h0M205.5 175.1h0M199.5 151.8h0M193.9 167.5h0M216.8 146.1h0M203.9 176.9h0M209.3 145.1h0M216.6 162.8h0M199.7 153.2h0M216.5 162.4h0M196.0 158.2h0M225.5 152.4h0M200.8 162.6h0M195.2 171.7h0M213.5 165.3h0M206.9 152.8h0M208.6 147.6h0M197.4 147.7h0M199.1 154.6h0M195.3 151.0h0M209.0 149.2h0M208.8 171.6h0M233.7 145.6h0M235.9 146.8h0M244.9 150.9h0M230.5 153.6h0M250.0 151.7h0M251.8 152.2h0M257.2 151.6h0M262.2 153.1h0M298.1 162.4h0M294.7 162.4h0M284.8 164.1h0M298.2 146.5h0M271.7 145.4h0M277.5 159.5h0M293.6 171.5h0M302.3 168.0h0M279.1 146.0h0M293.9 155.7h0M299.0 157.1h0M298.2 156.6h0M279.7 163.9h0M300.2 152.0h0M285.4 165.2h0M275.3 147.8h0M290.7 165.8h0M269.2 158.9h0M294.6 145.0h0M325.1 173.8h0M320.0 145.5h0M325.5 160.4h0M312.1 172.2h0M302.8 153.5h0M323.0 167.8h0M321.9 162.3h0M310.5 168.3h0M334.0 151.6h0M314.7 155.9h0M307.9 171.0h0M318.3 162.7h0M312.8 150.2h0M311.9 172.3h0M308.3 168.7h0M326.9 149.4h0M329.8 173.4h0M320.7 157.9h0M303.6 175.7h0M324.6 161.5h0M309.2 153.9h0M319.8 161.9h0M330.9 145.5h0M309.0 160.5h0M329.3 166.9h0M336.9 169.9h0M313.7 158.4h0M330.4 155.8h0M348.8 145.6h0M370.7 172.6h0M347.1 148.7h0M361.2 176.0h0M349.3 155.5h0M375.8 170.8h0M362.2 150.4h0M351.0 148.4h0M408.1 166.4h0M396.5 172.7h0M443.6 164.8h0M148.6 189.0h0M133.5 208.5h0M153.7 182.4h0M152.6 185.5h0M151.8 202.7h0M122.3 197.5h0M139.7 209.4h0M151.1 203.6h0M120.9 199.7h0M147.9 200.6h0M123.3 186.5h0M149.4 182.4h0M188.1 186.0h0M158.4 193.4h0M177.2 185.1h0M174.3 194.0h0M160.4 178.6h0M166.4 180.5h0M179.0 197.1h0M170.2 191.6h0M156.3 198.0h0M164.2 203.4h0M162.9 206.8h0M156.5 183.8h0M168.1 180.3h0M181.5 186.5h0M175.6 189.9h0M165.0 210.7h0M165.2 190.5h0M161.1 199.6h0M158.2 182.3h0M161.8 184.8h0M190.7 187.9h0M171.9 179.8h0M179.0 180.8h0M173.7 181.9h0M172.0 191.8h0M180.5 187.6h0M194.7 183.8h0M198.9 181.4h0M198.5 180.4h0M194.2 178.1h0M299.7 180.7h0M299.2 180.0h0M317.1 209.6h0M336.7 188.5h0M304.2 195.2h0M326.0 194.3h0M329.9 185.2h0M311.4 191.8h0M320.8 199.8h0M315.9 180.1h0M303.7 193.7h0M317.9 201.3h0M312.3 191.7h0M339.1 182.8h0M332.1 190.5h0M336.8 203.7h0M329.9 209.3h0M321.0 180.6h0M325.6 191.8h0M325.8 189.7h0M326.1 203.9h0M327.2 203.6h0M321.0 195.6h0M332.0 207.1h0M334.3 183.2h0M326.2 179.0h0M307.0 189.5h0M311.8 188.8h0M320.8 209.1h0M306.6 200.1h0M317.2 194.6h0M319.4 183.5h0M314.7 197.8h0M321.8 193.2h0M334.4 192.6h0M317.7 204.1h0M339.0 188.6h0M326.3 182.5h0M319.7 186.1h0M326.3 206.1h0M309.8 187.1h0M338.2 206.0h0M316.2 177.9h0M318.7 179.8h0M333.2 192.3h0M330.0 189.5h0M310.8 210.7h0M316.8 193.7h0M331.3 179.9h0M324.5 191.0h0M366.3 202.2h0M348.2 195.3h0M349.7 199.9h0M347.1 179.4h0M368.6 200.0h0M361.1 194.5h0M343.8 208.9h0M344.0 210.7h0M372.9 197.1h0M339.8 202.7h0M366.3 200.2h0M356.5 199.6h0M360.5 188.5h0M354.3 206.1h0M363.8 179.4h0M358.5 208.9h0M346.3 203.4h0M342.7 206.7h0M389.2 193.3h0M410.4 209.9h0M382.3 186.8h0M394.8 189.3h0M393.2 189.4h0M112.0 242.6h0M116.6 224.2h0M92.8 224.9h0M141.4 225.8h0M152.1 235.4h0M138.5 218.6h0M150.4 238.7h0M148.0 229.1h0M140.7 219.5h0M151.1 227.4h0M135.7 222.9h0M151.1 231.3h0M144.9 227.3h0M148.3 231.3h0M151.4 217.3h0M133.2 233.6h0M147.5 240.8h0M153.9 224.0h0M125.2 221.7h0M147.0 241.3h0M139.2 216.8h0M141.4 240.3h0M130.7 228.0h0M125.6 239.4h0M149.3 235.7h0M147.4 231.2h0M154.1 211.5h0M138.3 228.6h0M149.8 241.2h0M125.3 221.2h0M147.0 227.0h0M153.3 219.2h0M132.1 228.1h0M158.1 214.3h0M156.5 229.9h0M156.9 229.6h0M334.3 211.6h0M331.1 223.7h0M337.4 216.7h0M324.2 236.1h0M318.0 233.5h0M322.2 222.6h0M317.0 227.8h0M338.9 216.4h0M339.0 230.1h0M320.9 231.0h0M323.8 218.2h0M326.1 217.3h0M336.0 234.6h0M333.0 212.3h0M321.8 236.0h0M333.6 240.9h0M336.8 240.4h0M327.1 235.3h0M332.7 219.3h0M334.3 238.8h0M327.8 227.1h0M315.5 222.3h0M333.7 212.3h0M317.2 228.0h0M332.4 241.5h0M330.5 214.7h0M339.1 232.4h0M334.4 232.7h0M326.7 210.9h0M324.5 214.3h0M325.6 227.9h0M333.4 217.4h0M336.7 213.4h0M318.7 231.3h0M328.4 213.7h0M337.5 211.3h0M322.1 231.5h0M321.5 226.8h0M372.1 225.8h0M353.3 234.6h0M351.9 233.0h0M342.3 240.1h0M371.2 221.7h0M345.3 222.3h0M341.9 229.4h0M339.3 225.4h0M340.8 214.8h0M370.3 234.5h0M369.8 233.1h0M375.8 242.4h0M370.3 221.0h0M369.1 229.7h0M347.5 220.5h0M350.1 235.8h0M353.7 215.1h0M370.5 231.3h0M354.8 214.5h0M343.2 229.2h0M397.7 216.7h0M380.6 229.7h0M401.0 240.6h0M402.7 212.7h0M381.0 214.4h0M391.3 225.2h0M396.6 216.3h0M381.3 238.7h0M411.0 222.9h0M399.0 215.4h0M378.2 213.5h0M431.2 241.6h0M418.1 220.5h0M88.3 244.2h0M85.7 275.8h0M131.6 249.1h0M132.8 266.7h0M137.9 267.6h0M147.5 259.3h0M145.8 269.2h0M130.6 245.8h0M140.9 245.4h0M135.1 257.6h0M130.2 267.7h0M139.1 250.1h0M145.7 252.3h0M130.0 251.6h0M137.0 254.3h0M142.7 250.0h0M133.7 273.6h0M141.6 254.9h0M135.7 265.1h0M146.0 245.3h0M118.9 263.2h0M289.8 268.8h0M286.5 274.3h0M288.6 271.8h0M328.0 247.6h0M320.0 262.9h0M307.3 272.6h0M303.7 273.9h0M327.3 254.0h0M314.3 251.8h0M319.5 268.9h0M322.6 257.6h0M317.8 266.2h0M328.2 248.1h0M315.4 276.2h0M316.8 268.4h0M320.7 263.7h0M317.4 275.6h0M333.3 274.5h0M323.2 248.8h0M303.2 276.6h0M338.8 262.4h0M327.2 250.7h0M310.4 270.8h0M321.6 253.9h0M320.7 266.6h0M329.1 245.3h0M320.5 247.1h0M312.8 260.4h0M318.0 248.4h0M309.2 245.6h0M332.5 249.7h0M309.6 256.2h0M308.0 248.2h0M335.6 245.9h0M313.6 274.8h0M321.2 253.4h0M318.2 258.1h0M330.4 244.4h0M322.2 252.0h0M313.4 276.0h0M304.9 253.2h0M306.4 266.0h0M321.7 246.7h0M305.9 271.0h0M303.8 255.9h0M333.2 257.2h0M323.6 247.8h0M318.4 270.0h0M332.9 258.7h0M321.7 256.5h0M332.5 263.9h0M309.7 264.4h0M332.8 256.1h0M307.5 272.0h0M309.4 250.7h0M307.2 259.0h0M332.4 261.6h0M340.5 252.5h0M360.3 270.6h0M357.6 254.1h0M358.0 267.8h0M364.6 259.6h0M344.0 259.9h0M368.0 249.9h0M344.4 247.5h0M351.2 266.0h0M362.0 243.7h0M353.7 252.7h0M348.9 273.4h0M341.5 270.2h0M365.8 258.5h0M373.5 249.0h0M347.3 256.7h0M366.4 261.7h0M339.5 262.0h0M372.7 255.6h0M342.6 256.3h0M356.9 259.3h0M362.6 261.1h0M358.2 260.7h0M344.0 249.0h0M357.7 260.0h0M377.4 263.9h0M400.0 272.6h0M378.4 245.1h0M97.2 299.7h0M82.9 298.2h0M109.6 283.7h0M152.0 301.9h0M131.7 282.2h0M148.6 306.0h0M136.2 289.6h0M144.9 283.8h0M146.2 287.9h0M151.7 300.2h0M131.0 297.0h0M119.6 301.4h0M134.7 299.1h0M141.4 289.8h0M136.3 309.2h0M146.8 299.7h0M121.4 294.8h0M138.4 304.9h0M135.3 280.4h0M146.2 281.8h0M119.9 276.7h0M142.9 298.8h0M138.3 296.7h0M131.8 281.4h0M135.9 309.1h0M175.4 304.4h0M175.6 309.5h0M217.8 308.0h0M214.5 307.1h0M220.9 309.4h0M256.4 309.0h0M300.0 307.0h0M299.1 309.2h0M280.2 289.6h0M279.3 296.3h0M302.0 308.9h0M301.4 296.4h0M296.2 300.2h0M300.2 307.9h0M280.0 307.5h0M278.6 308.0h0M272.8 307.0h0M298.4 287.6h0M294.3 305.5h0M295.6 287.5h0M276.0 299.6h0M296.4 306.1h0M299.8 281.6h0M288.6 304.5h0M286.3 297.1h0M298.8 291.5h0M283.6 301.2h0M299.5 281.1h0M279.4 306.9h0M298.0 285.9h0M296.0 283.8h0M287.9 291.7h0M295.2 301.6h0M280.5 288.6h0M286.8 296.7h0M283.8 308.3h0M297.2 305.2h0M274.6 299.7h0M291.4 299.9h0M298.1 295.0h0M270.7 301.8h0M287.9 302.7h0M300.1 280.9h0M295.2 306.2h0M279.4 284.2h0M302.2 289.2h0M300.7 295.1h0M278.0 285.6h0M300.2 294.5h0M288.6 307.7h0M291.7 288.8h0M280.1 302.6h0M307.7 287.3h0M312.0 302.4h0M326.4 297.6h0M315.7 301.7h0M326.2 284.8h0M316.0 297.0h0M336.3 292.4h0M318.6 289.9h0M324.8 296.6h0M318.4 300.9h0M317.1 289.9h0M334.6 286.7h0M330.4 284.4h0M326.9 309.1h0M321.6 286.8h0M334.8 303.0h0M336.5 279.3h0M307.2 284.1h0M304.7 289.9h0M309.3 302.4h0M329.7 278.7h0M328.5 291.8h0M335.1 278.0h0M310.5 286.5h0M317.4 285.7h0M329.0 298.5h0M307.7 280.2h0M311.4 289.3h0M336.6 290.4h0M332.1 283.7h0M332.8 295.6h0M311.1 308.7h0M335.7 290.5h0M310.2 282.7h0M309.1 296.9h0M307.8 291.6h0M302.9 302.4h0M302.5 280.6h0M315.5 307.7h0M306.9 282.7h0M349.2 306.6h0M355.2 286.7h0M347.5 294.0h0M342.5 279.4h0M346.4 284.7h0M374.5 283.4h0M360.2 290.7h0M350.8 286.2h0M369.9 285.8h0M368.5 290.2h0M360.5 287.0h0M340.7 293.2h0M348.5 293.5h0M356.9 279.1h0M363.2 287.4h0M366.5 284.9h0M355.5 299.1h0M354.0 285.9h0M362.1 295.1h0M373.0 284.1h0M386.9 298.1h0M405.0 293.6h0M383.4 295.4h0M390.3 304.9h0M391.9 293.2h0M410.1 289.9h0M433.2 282.8h0M445.8 296.1h0M90.7 330.2h0M85.4 315.7h0M148.2 314.7h0M125.0 316.4h0M127.5 330.4h0M153.1 326.6h0M132.8 322.0h0M154.5 310.3h0M153.7 319.0h0M150.8 317.2h0M132.9 311.8h0M154.1 327.3h0M149.8 341.7h0M151.3 335.6h0M131.4 309.7h0M125.2 336.8h0M154.8 324.7h0M152.0 334.8h0M149.3 324.8h0M155.0 323.5h0M126.7 326.2h0M135.7 316.2h0M191.1 325.4h0M166.8 314.0h0M163.7 328.6h0M175.0 310.0h0M159.1 315.8h0M183.2 322.6h0M167.2 330.7h0M166.3 314.2h0M158.3 325.0h0M169.8 327.3h0M170.5 320.9h0M176.6 336.8h0M182.9 311.4h0M174.2 317.4h0M191.4 318.7h0M182.9 330.5h0M186.7 313.2h0M185.9 341.6h0M184.2 319.8h0M159.2 331.4h0M187.5 320.7h0M160.7 316.7h0M157.3 321.8h0M159.6 318.0h0M175.5 321.3h0M160.5 328.5h0M158.9 310.3h0M181.9 340.9h0M169.8 323.5h0M189.2 325.4h0M170.1 339.8h0M182.3 320.2h0M174.4 317.1h0M155.7 318.0h0M163.8 318.4h0M187.4 333.4h0M186.9 320.9h0M176.1 329.5h0M166.8 324.9h0M195.1 322.9h0M228.0 336.8h0M204.4 325.7h0M226.3 321.7h0M205.0 322.7h0M221.3 322.2h0M221.3 320.3h0M206.7 335.0h0M199.1 332.2h0M224.9 327.7h0M208.2 326.2h0M197.7 341.8h0M218.4 319.2h0M217.6 327.0h0M203.6 341.9h0M211.5 325.6h0M193.7 321.3h0M223.4 332.0h0M204.9 336.6h0M226.6 332.3h0M218.8 338.4h0M219.2 340.2h0M207.3 323.7h0M209.7 312.7h0M208.2 331.7h0M224.8 341.4h0M198.0 323.0h0M218.5 312.7h0M192.7 318.7h0M204.0 327.8h0M220.6 332.5h0M220.1 315.0h0M213.2 336.7h0M219.6 322.4h0M210.9 325.1h0M222.6 320.7h0M198.0 333.3h0M212.5 333.6h0M212.6 337.2h0M208.9 332.4h0M218.4 328.4h0M204.6 337.7h0M206.8 322.1h0M231.2 312.6h0M265.4 310.2h0M247.1 330.5h0M258.8 309.6h0M231.0 324.1h0M259.8 314.4h0M233.1 321.1h0M246.5 341.0h0M234.1 332.7h0M265.2 335.5h0M236.7 328.5h0M247.9 326.8h0M241.2 341.1h0M258.1 328.5h0M255.2 312.1h0M232.3 328.6h0M237.3 325.5h0M258.4 316.0h0M259.0 320.6h0M233.9 328.0h0M236.6 313.6h0M244.7 322.3h0M264.6 324.6h0M229.0 324.3h0M232.7 333.1h0M254.4 335.3h0M255.5 331.5h0M249.5 331.5h0M249.4 314.7h0M246.2 311.0h0M244.2 332.1h0M250.3 316.9h0M252.6 325.0h0M251.6 311.1h0M254.6 327.8h0M250.3 325.8h0M242.9 327.7h0M250.3 322.5h0M233.7 335.0h0M238.0 333.7h0M231.4 335.8h0M261.9 311.2h0M253.2 339.0h0M246.3 318.1h0M259.0 322.0h0M245.8 314.0h0M248.4 328.6h0M249.6 336.1h0M245.7 342.2h0M254.1 327.1h0M244.8 336.1h0M256.1 328.9h0M255.1 316.5h0M241.5 325.0h0M256.4 313.0h0M233.7 338.7h0M239.7 331.0h0M251.1 336.6h0M247.9 318.3h0M258.0 318.7h0M270.1 317.9h0M290.1 316.8h0M291.9 311.7h0M288.9 340.0h0M299.2 312.7h0M268.8 331.7h0M294.3 310.0h0M282.2 311.2h0M301.7 314.4h0M278.7 329.8h0M275.0 324.8h0M282.5 338.2h0M288.7 324.4h0M302.2 311.7h0M286.0 310.0h0M338.3 323.9h0M306.1 315.1h0M322.7 326.1h0M327.5 310.5h0M311.5 323.0h0M323.8 333.1h0M346.7 318.4h0M356.2 332.1h0M97.8 374.3h0M92.8 372.4h0M105.6 367.0h0M117.3 351.7h0M85.0 346.6h0M122.3 344.9h0M128.1 362.3h0M137.9 356.7h0M121.3 362.8h0M139.4 364.6h0M133.9 369.5h0M169.3 354.0h0M178.3 370.3h0M169.4 358.7h0M191.0 346.1h0M166.7 371.8h0M160.2 342.9h0M164.9 372.9h0M191.8 362.7h0M174.3 371.6h0M187.0 358.8h0M201.3 363.1h0M227.5 348.3h0M216.9 349.8h0M197.5 346.5h0M219.5 347.6h0M202.5 368.8h0M197.0 367.7h0M209.9 368.8h0M222.0 366.2h0M216.9 345.9h0M214.7 359.0h0M222.3 344.5h0M215.9 368.6h0M208.1 354.4h0M239.2 365.2h0M246.5 367.4h0M229.1 365.7h0M237.5 352.9h0M239.2 351.8h0M230.0 352.2h0M234.9 361.4h0M249.4 374.8h0M247.1 349.8h0M229.5 359.5h0M257.4 346.5h0M278.4 366.8h0M90.4 375.5h0M82.7 375.5h0M83.0 375.5h0M143.2 375.5h0M142.9 375.5h0M206.6 375.5h0M204.0 375.5h0M259.2 375.5h0M136.2 256.6h0M310.3 249.3h0M180.0 335.5h0M149.2 248.5h0M147.7 309.0h0M325.9 230.3h0M139.5 250.0h0M135.1 238.8h0M314.1 252.0h0M133.5 253.5h0M208.9 166.6h0M137.7 289.7h0M142.6 304.8h0M128.7 295.6h0M165.5 329.1h0M155.7 178.5h0M316.1 253.0h0M279.2 338.4h0M291.3 286.7h0M275.1 162.3h0M146.1 225.4h0M281.8 299.1h0M156.9 206.4h0M137.5 255.9h0M137.2 242.4h0M165.0 318.0h0M139.3 246.2h0M137.0 271.2h0M335.5 230.2h0M135.3 237.9h0M232.2 144.1h0M148.1 218.8h0M153.0 315.5h0M142.5 224.4h0M132.2 294.5h0M174.3 193.8h0M190.4 164.3h0M326.4 247.8h0M162.9 218.4h0M305.1 257.9h0M129.2 250.1h0M224.2 313.7h0M244.6 343.9h0M118.2 263.8h0M158.6 318.4h0M182.7 184.0h0M206.7 328.0h0M163.4 204.5h0M164.9 193.7h0M136.6 260.4h0M184.3 175.1h0M333.8 219.6h0M185.4 186.9h0M139.6 250.2h0M152.3 307.1h0M144.9 253.4h0M317.0 260.4h0M294.5 299.7h0M305.3 161.2h0M129.0 255.7h0M185.8 168.2h0M305.2 135.8h0M162.5 312.2h0M145.7 225.0h0M233.6 147.6h0M137.2 285.0h0M191.3 168.7h0M160.3 203.7h0M127.0 285.8h0M190.9 315.0h0M273.0 316.6h0M322.8 199.8h0M282.8 153.2h0M309.3 278.4h0M290.0 151.1h0M298.3 163.5h0M162.5 197.7h0M138.3 264.0h0M152.7 205.0h0M173.8 189.4h0M272.2 306.6h0M316.1 193.3h0M189.1 182.4h0M196.9 334.2h0M131.4 297.8h0M141.1 265.2h0M205.5 157.4h0M126.6 278.0h0M315.3 246.5h0M215.7 315.6h0M333.3 257.9h0M163.9 197.7h0M217.5 160.9h0M182.6 193.9h0M141.2 224.2h0M288.8 147.8h0M182.5 194.3h0M151.5 218.9h0M328.9 243.5h0M197.6 137.4h0M320.0 251.8h0M234.7 340.8h0M275.9 159.2h0M336.5 250.0h0M314.9 243.6h0M128.9 237.9h0M304.0 172.1h0M151.5 315.1h0M312.1 259.9h0M148.3 252.1h0M213.6 149.3h0M143.6 292.7h0M250.3 315.7h0M288.5 136.9h0M318.6 190.2h0M183.2 313.1h0M189.5 177.8h0M141.0 236.0h0M174.6 197.5h0M292.2 150.8h0M210.8 140.5h0M317.9 178.6h0M219.3 314.2h0M224.4 153.7h0M214.4 319.5h0M187.3 314.2h0M318.9 224.3h0M146.2 264.9h0M264.2 145.0h0M271.5 308.8h0M183.7 312.9h0M226.7 142.4h0M220.3 145.0h0M314.2 252.9h0M141.2 242.9h0M237.2 142.2h0M204.7 161.7h0M141.8 278.5h0M165.8 211.5h0M305.3 153.2h0M309.0 266.9h0M297.5 156.1h0M310.8 255.0h0M149.8 219.6h0M146.6 219.8h0M318.4 223.3h0M221.6 326.7h0M137.3 264.4h0M245.5 133.4h0M146.4 272.4h0M148.5 311.8h0M186.7 323.9h0M316.5 180.6h0M116.4 290.4h0M274.2 299.8h0M270.4 307.6h0M169.7 314.5h0M318.8 243.3h0M134.6 249.9h0M308.7 262.0h0M141.7 254.2h0M139.4 272.2h0M255.7 314.5h0M329.5 204.2h0M314.3 166.8h0M324.2 198.7h0M127.3 229.0h0M297.7 152.9h0M162.8 317.1h0M239.7 132.8h0M311.3 242.7h0M264.6 322.5h0M194.6 183.2h0M253.3 142.1h0M153.7 213.2h0M144.3 299.4h0M234.1 143.1h0M200.7 165.8h0M211.7 306.5h0M138.6 244.9h0M135.6 277.5h0M142.1 309.7h0M270.2 297.2h0M303.9 276.9h0M141.8 291.4h0M215.8 311.8h0M145.7 214.2h0M333.1 172.7h0M318.6 156.2h0M314.1 204.4h0M132.4 269.9h0M311.4 209.8h0M314.2 242.4h0M332.3 239.8h0M144.0 271.2h0M259.9 133.2h0M305.8 162.7h0M146.3 288.3h0M174.4 317.0h0M310.0 160.7h0M140.5 259.6h0M127.9 275.6h0M138.8 278.9h0M174.4 305.4h0M145.6 293.4h0M145.9 272.6h0M317.9 254.1h0M199.2 343.3h0M218.0 139.5h0M237.6 145.4h0M255.7 135.0h0M174.7 337.6h0M175.5 186.9h0M174.7 195.4h0M224.8 143.1h0M144.6 275.8h0M141.4 270.4h0M271.9 134.1h0M317.9 199.9h0M298.9 291.2h0M311.1 178.0h0M286.3 302.8h0M142.0 237.4h0M134.0 275.0h0M136.6 241.3h0M188.8 172.9h0M134.7 261.3h0M322.7 188.9h0M253.7 313.1h0M210.4 306.6h0M257.5 151.7h0M339.2 255.0h0M322.1 233.7h0M145.2 214.3h0M280.8 158.6h0M142.3 231.1h0M165.8 192.6h0M279.0 154.5h0M173.5 184.6h0M145.3 281.5h0M323.3 241.7h0M176.9 180.6h0M290.7 298.3h0M208.1 124.0h0M256.3 121.9h0M270.4 144.0h0M291.7 165.3h0M145.1 302.9h0M217.6 133.3h0M143.6 286.8h0M282.9 304.3h0M165.6 192.7h0M289.8 147.0h0M137.4 225.0h0M146.1 214.3h0M131.7 307.4h0M137.3 289.4h0M144.2 234.2h0M137.7 278.2h0M153.2 227.4h0M306.2 166.7h0M207.9 141.3h0M159.0 226.0h0M179.2 184.9h0M274.5 151.4h0M145.6 295.5h0M154.6 224.0h0M297.8 148.8h0M324.4 211.6h0M199.9 305.5h0M176.1 312.3h0M275.6 303.2h0M205.2 156.5h0M292.1 154.5h0M323.6 218.6h0M180.6 315.9h0M112.9 245.5h0M213.9 167.0h0M326.3 236.6h0M169.4 178.6h0M215.9 316.7h0M159.1 209.6h0M309.0 267.1h0M129.6 305.0h0M216.1 156.8h0M190.5 340.0h0M187.1 176.7h0M141.5 270.6h0M144.4 266.0h0M191.3 170.0h0M131.3 235.4h0M322.6 236.2h0M324.0 197.4h0M156.1 205.6h0M245.9 322.5h0M305.8 254.1h0M314.2 255.5h0M151.5 198.5h0M164.0 193.0h0M140.9 277.8h0M343.8 221.7h0M315.8 258.5h0M184.2 173.5h0M136.6 296.1h0M152.4 319.8h0M332.8 220.1h0M237.7 151.0h0M134.6 283.5h0M210.4 145.6h0M155.3 344.9h0M156.1 215.0h0M223.7 316.0h0M290.1 162.0h0M240.3 138.2h0M305.5 266.0h0M287.9 275.6h0M178.5 313.8h0M312.7 164.2h0M217.7 161.0h0M355.7 197.8h0M155.6 218.1h0M197.8 181.6h0M300.7 296.6h0M326.1 215.3h0M278.7 134.4h0M146.5 211.7h0M293.6 161.0h0M305.8 152.4h0M282.8 305.2h0M130.9 303.2h0M306.9 190.7h0M187.9 189.8h0M148.5 233.5h0M316.6 244.8h0M143.1 229.8h0M150.9 208.0h0M139.4 305.6h0M296.8 163.7h0M178.1 182.6h0M300.6 169.0h0M158.8 209.7h0M315.6 211.6h0M158.3 309.8h0M262.2 311.2h0M150.3 311.8h0M165.8 312.8h0M188.3 168.8h0M229.5 151.6h0M137.6 249.4h0M304.2 249.2h0M193.7 183.3h0M172.8 313.7h0M151.9 304.7h0M273.6 138.0h0M154.6 310.9h0M182.3 324.3h0M192.2 168.5h0M115.2 274.5h0M301.5 166.9h0M246.4 133.8h0M139.8 261.8h0M219.2 319.9h0M223.2 139.0h0M248.9 318.8h0M286.4 138.4h0M202.0 329.6h0M120.5 287.1h0M191.8 186.5h0M306.3 171.9h0M297.1 161.0h0M140.7 242.5h0M272.2 159.4h0M147.9 302.6h0M162.1 197.2h0M318.0 269.7h0M152.0 224.9h0M138.4 294.8h0M144.1 285.8h0M162.0 195.4h0M308.3 185.2h0M184.6 178.7h0M323.8 211.6h0M263.4 139.8h0M129.4 300.2h0M160.1 209.0h0M169.9 199.6h0M309.0 281.7h0" stroke="#999999" stroke-width="4.6" stroke-linecap="round" fill="none"/>
<path d="M182.1 276.3h0M181.1 308.1h0M220.2 245.9h0M203.6 296.3h0M363.7 259.8h0M161.0 316.3h0M182.5 289.5h0M191.4 258.9h0M204.4 288.6h0M204.7 281.4h0M183.5 295.3h0M270.3 244.4h0M238.2 216.0h0M209.9 264.6h0M188.5 278.4h0M173.3 246.3h0M175.3 305.7h0M249.5 331.5h0M165.3 280.6h0M169.2 287.7h0M132.4 336.0h0M172.3 290.6h0M158.0 279.4h0M191.3 296.4h0M221.9 274.1h0M246.2 206.8h0M220.2 279.7h0M199.5 138.1h0M152.7 287.7h0M236.6 280.6h0M151.5 315.6h0M160.3 276.2h0M152.7 300.4h0M186.2 309.9h0M256.7 199.3h0M165.2 317.6h0M245.3 279.6h0M208.1 284.0h0M196.4 277.9h0M154.8 372.9h0M254.6 235.2h0M168.3 296.0h0M175.0 283.1h0M222.1 220.6h0M195.4 264.0h0M197.2 292.3h0M178.9 309.0h0M188.3 268.2h0M222.2 292.6h0M235.7 275.6h0M298.2 203.3h0M155.0 220.7h0M131.6 315.8h0M137.5 289.1h0M204.7 225.6h0M199.6 224.5h0M201.5 274.1h0M177.1 287.8h0M189.1 269.4h0M190.6 268.3h0M243.7 243.2h0M151.4 295.1h0M173.4 298.6h0M354.0 285.9h0M189.6 299.3h0M181.6 296.2h0M195.2 299.8h0M150.8 286.8h0M93.2 297.8h0M240.1 180.9h0M157.9 282.1h0M151.4 311.5h0M184.3 300.0h0M147.7 275.8h0M243.8 338.1h0M179.8 312.4h0M175.2 299.3h0M168.5 289.8h0M229.3 249.7h0M190.0 277.4h0M174.7 290.3h0M189.6 281.8h0M227.2 195.8h0M259.4 269.7h0M147.3 215.4h0M179.8 285.5h0M185.8 275.8h0M196.6 278.9h0M172.0 304.4h0M142.9 193.7h0M149.4 300.5h0M157.3 293.3h0M142.1 301.0h0M176.8 293.3h0M189.9 277.0h0M148.2 281.4h0M140.2 316.3h0M185.1 278.1h0M206.4 295.2h0M155.0 284.3h0M201.9 216.2h0M205.3 310.1h0M351.2 266.0h0M185.3 293.2h0M174.1 313.0h0M234.2 248.3h0M190.8 287.6h0M182.0 279.2h0M230.0 290.9h0M184.9 280.6h0M175.9 296.3h0M226.3 281.1h0M172.5 264.3h0M214.7 277.9h0M168.9 281.0h0M177.8 311.3h0M181.2 292.5h0M181.3 301.6h0M196.2 304.9h0M81.8 307.3h0M205.3 282.4h0M164.3 281.7h0M236.5 333.8h0M196.6 269.6h0M185.2 322.2h0M177.9 289.0h0M176.8 270.2h0M263.6 245.4h0M154.8 242.4h0M194.9 273.6h0M172.9 261.5h0M138.5 301.3h0M189.1 279.5h0M155.5 269.8h0M173.5 295.5h0M167.5 307.5h0M193.2 293.2h0M192.9 297.1h0M185.3 277.2h0M173.7 287.0h0M225.5 375.5h0M197.7 298.6h0M85.1 338.4h0M167.5 273.5h0M225.1 341.8h0M182.9 276.8h0M181.1 294.2h0M137.2 294.2h0M220.1 247.8h0M338.2 206.0h0M171.7 312.5h0M158.2 318.2h0M182.0 283.8h0M167.4 303.4h0M159.7 281.0h0M198.2 375.5h0M189.5 276.2h0" stroke="#DA5B00" stroke-width="4.6" stroke-linecap="round" fill="none"/>
<path d="M145.3 329.9h0M142.3 303.5h0M162.7 310.4h0M154.6 319.0h0M184.7 305.9h0M171.5 302.5h0M344.0 259.9h0M185.4 324.4h0M157.5 303.8h0M258.9 242.8h0M123.3 317.5h0M156.4 330.5h0M134.8 311.4h0M187.4 263.9h0M143.0 308.6h0M171.1 295.9h0M168.2 316.7h0M180.9 245.7h0M180.3 322.6h0M151.4 315.7h0M136.5 224.9h0M177.2 319.3h0M373.0 284.1h0M133.3 308.1h0M175.4 300.1h0M179.3 278.8h0M168.7 288.0h0M148.2 303.6h0M150.2 292.4h0M157.9 264.7h0M142.3 315.0h0M148.6 294.8h0M148.5 304.2h0M172.2 309.8h0M178.8 303.3h0M178.1 259.4h0M238.3 194.8h0M161.1 314.9h0M162.4 324.0h0M221.8 307.7h0M165.2 300.9h0M176.7 298.2h0M239.1 262.5h0M157.2 309.3h0M161.7 314.2h0M307.8 291.6h0M153.4 227.4h0M256.4 309.0h0M172.6 307.7h0M187.0 317.4h0M149.7 302.9h0M168.8 316.5h0M154.3 276.2h0M172.8 301.6h0M168.7 307.3h0M178.4 309.3h0M172.9 298.4h0M162.7 290.3h0M177.8 296.6h0M146.9 297.7h0M330.1 262.3h0M163.6 316.5h0M142.2 307.8h0M200.8 162.6h0M133.8 333.0h0M113.2 333.6h0M179.0 304.5h0M136.9 375.5h0M149.8 316.0h0M148.7 341.8h0M160.7 313.9h0" stroke="#FFBB00" stroke-width="4.6" stroke-linecap="round" fill="none"/>
<path d="M236.9 220.4h0M230.8 222.7h0M193.4 300.2h0M213.5 270.0h0M251.9 240.6h0M186.2 285.2h0M178.0 288.0h0M191.5 290.2h0M313.7 163.6h0M176.9 273.3h0M249.4 374.8h0M158.8 309.5h0M176.2 287.2h0M165.0 298.6h0M156.6 301.6h0M187.5 290.6h0M209.2 294.5h0M174.0 288.2h0M185.7 279.7h0M184.2 319.5h0M143.5 318.1h0M169.5 238.1h0M182.0 224.1h0M176.7 274.6h0M154.0 281.4h0M177.8 284.7h0M256.6 284.6h0M90.4 375.5h0M170.9 280.7h0M196.4 291.9h0M187.5 271.8h0M167.3 283.1h0M218.3 306.2h0M211.6 263.9h0M197.0 272.4h0M211.5 216.8h0M170.3 312.5h0M273.8 204.6h0M182.5 282.4h0M138.9 317.6h0M169.0 312.7h0M182.5 294.3h0M221.1 277.9h0M196.2 303.2h0M176.7 276.8h0M163.3 309.4h0M173.0 301.1h0M172.2 266.0h0M203.3 249.6h0M163.7 280.7h0M159.6 238.6h0M164.1 248.9h0M209.8 288.5h0M171.9 314.1h0M185.1 278.8h0M193.0 299.9h0M190.9 252.4h0M202.7 272.4h0M160.4 288.9h0M232.2 262.9h0M171.3 290.5h0M156.6 276.8h0M196.2 300.9h0M388.8 232.0h0M287.8 271.5h0M198.0 308.5h0M139.8 300.5h0M231.8 228.1h0M167.6 290.0h0M160.9 278.8h0M140.4 345.8h0M213.1 312.9h0M160.4 273.9h0M193.2 338.3h0M172.3 293.1h0M215.5 273.1h0M183.7 278.0h0M205.2 222.1h0M177.0 303.6h0M363.2 95.7h0M213.2 281.4h0M393.4 174.5h0M125.7 343.2h0M198.5 305.7h0M221.5 289.6h0M184.4 278.6h0M184.0 214.3h0M175.8 295.4h0M171.5 312.9h0M149.9 294.6h0M218.6 279.2h0M181.0 296.2h0M141.7 252.0h0M172.8 302.2h0M135.2 285.8h0M275.9 269.4h0M213.8 375.5h0M197.0 320.1h0M258.9 143.5h0M149.4 306.7h0M188.3 297.7h0M186.4 312.4h0M166.9 268.6h0M177.6 302.5h0M167.0 287.1h0M189.8 312.3h0M203.7 285.3h0M147.6 184.5h0M190.9 294.6h0M194.8 273.3h0M198.9 288.7h0M82.7 375.5h0M196.2 278.9h0M185.5 283.3h0M342.3 240.1h0M192.2 206.4h0M179.5 301.5h0M167.0 293.0h0M193.9 313.9h0M191.4 262.1h0M171.5 302.7h0M202.3 283.0h0M187.9 319.4h0M201.2 205.5h0M219.0 346.7h0M184.5 320.9h0M165.3 270.7h0M189.8 283.9h0M291.4 299.9h0M192.2 302.3h0M204.5 300.8h0M293.4 239.8h0M190.6 257.3h0M198.2 279.5h0M176.6 273.0h0M208.8 264.0h0M215.4 265.8h0M213.9 284.1h0M171.6 299.4h0M175.6 297.4h0M218.5 299.9h0M124.1 322.1h0M181.3 267.0h0M234.4 298.8h0M158.1 292.8h0M193.9 283.3h0M220.8 278.5h0M179.9 291.8h0M190.3 214.6h0M177.8 281.3h0M169.5 313.3h0M189.2 316.3h0M150.2 290.0h0M165.2 290.9h0M195.9 294.1h0M146.2 303.8h0M161.6 304.8h0" stroke="#DA5B00" stroke-width="4.6" stroke-linecap="round" fill="none"/>
<path d="M170.3 289.4h0M200.8 266.9h0M144.9 305.8h0M184.7 315.2h0M117.1 330.9h0M194.6 282.1h0M231.0 324.1h0M157.5 300.4h0M158.1 307.7h0M183.5 324.1h0M160.8 315.5h0M174.9 299.2h0M171.5 300.8h0M186.7 297.8h0M156.9 303.1h0M288.2 260.0h0M154.3 315.4h0M158.4 193.4h0M146.5 328.0h0M176.0 285.6h0M173.5 294.7h0M170.2 357.3h0M141.9 298.5h0M152.8 308.9h0M183.9 297.8h0M158.1 317.8h0M144.3 336.0h0M155.7 281.1h0M153.0 308.2h0M183.5 230.3h0M152.7 316.9h0M221.6 286.8h0M142.5 281.2h0M137.2 303.7h0M203.5 143.1h0M204.8 207.2h0M163.3 287.6h0M180.3 270.1h0M262.2 125.2h0M149.0 313.9h0M160.5 288.5h0M141.0 299.7h0M169.7 297.7h0M142.1 310.3h0M82.4 274.2h0M127.9 315.4h0M157.0 299.5h0M177.7 313.6h0M160.7 309.9h0M140.7 282.3h0M147.4 322.6h0M144.5 283.0h0M151.8 304.7h0M159.7 351.2h0M134.5 290.7h0M163.5 304.1h0M155.4 303.9h0M148.2 323.7h0M131.0 297.0h0M218.8 264.7h0M151.2 140.2h0M167.1 309.0h0M166.5 312.9h0M182.9 290.8h0M158.1 314.2h0M148.4 314.3h0M114.3 309.8h0M191.1 234.8h0M144.5 320.2h0M167.5 302.3h0M127.7 294.1h0" stroke="#FFBB00" stroke-width="4.6" stroke-linecap="round" fill="none"/>
<path d="M180.2 286.2h0M177.9 274.1h0M199.0 316.5h0M205.6 323.6h0M147.3 315.1h0M179.8 303.8h0M115.1 285.5h0M189.0 290.3h0M150.4 310.6h0M155.4 308.6h0M127.7 271.7h0M108.8 284.5h0M148.9 291.0h0M256.8 285.5h0M222.4 277.0h0M197.5 309.4h0M317.0 242.9h0M242.0 332.8h0M200.8 262.4h0M182.4 272.3h0M298.1 113.4h0M243.3 258.5h0M221.5 292.4h0M139.5 231.8h0M276.5 218.3h0M188.8 287.1h0M136.0 253.9h0M178.3 278.1h0M211.3 263.5h0M133.2 277.0h0M81.8 265.7h0M168.6 295.8h0M199.9 254.1h0M238.2 334.8h0M174.0 294.3h0M250.9 203.4h0M183.6 298.1h0M165.8 304.0h0M171.9 316.1h0M168.4 312.9h0M174.9 313.2h0M222.9 290.2h0M185.4 326.7h0M188.1 284.9h0M326.9 149.4h0M201.2 219.1h0M183.9 238.5h0M216.1 210.7h0M152.4 284.8h0M307.4 265.1h0M175.8 322.5h0M208.9 310.2h0M158.2 280.3h0M171.5 288.4h0M191.4 330.8h0M175.0 309.6h0M181.0 295.7h0M170.6 276.2h0M185.9 238.1h0M202.3 307.0h0M218.3 280.6h0M195.0 300.2h0M177.2 160.6h0M274.0 79.9h0M197.3 297.8h0M154.4 236.8h0M253.2 294.0h0M181.3 298.0h0M282.6 327.7h0M194.6 308.2h0M202.1 285.0h0M180.6 265.1h0M171.9 267.4h0M122.7 304.9h0M166.2 311.7h0M203.1 272.5h0M166.8 292.3h0M170.2 290.6h0M221.8 164.6h0M158.5 291.5h0M162.1 296.0h0M197.6 296.7h0M150.7 299.5h0M206.3 315.5h0M284.1 176.6h0M430.5 71.3h0M241.3 265.3h0M226.3 269.1h0M176.3 299.3h0M201.1 251.2h0M191.8 293.3h0M154.4 317.9h0M162.7 288.3h0M264.1 207.4h0M176.8 303.8h0M188.9 249.6h0M191.6 295.3h0M161.7 284.9h0M118.3 315.5h0M188.8 264.6h0M379.9 275.5h0M202.2 264.7h0M161.3 323.4h0M175.0 292.1h0M197.7 239.5h0M198.8 255.6h0M177.3 291.3h0M179.7 285.7h0M177.0 287.6h0M340.2 224.3h0M170.4 296.4h0M166.1 274.3h0M259.3 225.1h0M170.8 314.0h0M157.0 317.2h0M164.8 310.8h0M317.3 222.9h0M187.4 286.4h0M221.2 251.6h0M185.6 258.1h0M152.4 294.7h0M180.0 327.5h0M173.0 293.8h0M201.0 286.9h0M210.8 291.7h0M173.5 301.0h0M210.3 240.8h0M211.2 232.4h0M216.3 295.5h0M186.7 288.0h0M246.9 256.2h0M147.1 321.4h0M182.2 282.4h0M235.5 277.6h0M187.3 375.5h0M183.7 272.8h0M184.6 274.9h0M192.2 282.9h0M260.9 307.4h0M291.8 233.7h0M156.2 282.6h0M196.1 266.7h0M242.2 179.6h0M185.9 276.0h0M150.8 287.5h0M172.6 299.8h0M123.9 296.7h0M144.4 323.5h0M197.6 253.9h0M136.5 291.0h0M228.8 316.4h0M198.3 301.2h0M171.8 288.9h0M269.2 256.8h0M415.6 34.7h0M155.5 314.8h0M168.1 271.3h0" stroke="#DA5B00" stroke-width="4.6" stroke-linecap="round" fill="none"/>
<path d="M140.2 313.4h0M151.4 289.4h0M181.4 292.9h0M154.6 315.1h0M162.2 311.4h0M146.1 306.2h0M185.4 303.0h0M164.9 285.5h0M128.3 273.1h0M182.6 299.9h0M150.1 304.7h0M183.2 298.7h0M161.2 313.0h0M155.2 298.5h0M138.2 310.8h0M137.5 306.9h0M201.9 299.6h0M144.8 308.8h0M236.9 280.9h0M259.1 250.8h0M156.1 325.4h0M174.6 300.0h0M147.1 294.9h0M158.3 299.2h0M230.6 214.9h0M157.3 310.2h0M342.6 256.3h0M159.8 311.6h0M278.9 234.4h0M144.1 291.2h0M160.9 358.9h0M181.3 280.9h0M169.7 316.8h0M162.8 308.1h0M135.2 299.3h0M144.3 310.8h0M154.7 309.4h0M172.6 273.3h0M189.0 243.6h0M169.5 320.0h0M174.7 308.7h0M163.8 324.0h0M159.3 303.5h0M172.3 286.1h0M179.2 285.8h0M146.2 354.9h0M221.4 255.0h0M128.1 336.6h0M133.9 324.9h0M161.9 307.3h0M148.8 304.8h0M193.4 281.9h0M146.5 321.0h0M188.8 311.4h0M168.0 324.8h0M126.9 325.8h0M160.4 289.1h0M176.0 298.6h0M171.8 281.7h0M170.4 312.9h0M163.5 302.0h0M132.0 325.1h0M165.4 285.5h0M196.5 306.3h0M143.5 305.6h0M194.5 290.8h0M175.5 275.1h0M174.2 328.8h0M166.7 313.4h0M170.6 270.8h0" stroke="#FFBB00" stroke-width="4.6" stroke-linecap="round" fill="none"/>
<path d="M184.2 273.5h0M179.1 277.9h0M237.8 218.4h0M182.3 287.8h0M233.3 223.4h0M229.4 220.5h0M176.9 271.1h0M174.9 273.5h0M213.7 272.6h0M150.4 315.1h0M181.6 305.4h0M179.3 306.1h0M156.0 316.4h0M153.4 313.0h0M152.7 316.3h0M204.9 278.2h0M173.8 303.8h0M172.8 304.4h0M157.7 307.7h0M185.4 298.7h0M238.7 219.4h0M172.4 249.8h0M172.5 248.5h0M172.3 303.6h0M162.0 285.3h0M167.0 283.6h0M157.8 307.7h0M185.5 277.4h0M244.2 255.5h0M239.5 257.1h0M177.4 278.5h0M176.6 278.6h0M247.0 208.9h0M180.3 276.2h0M181.5 278.9h0M150.7 285.9h0M154.2 290.3h0M237.6 283.9h0M169.6 303.2h0M173.3 303.6h0M162.6 276.0h0M165.4 284.6h0M168.8 286.6h0M167.4 293.9h0M185.9 300.9h0M196.9 255.8h0M201.4 256.3h0M195.6 274.9h0M195.4 274.3h0M175.8 293.4h0M174.5 296.4h0M167.8 315.0h0M242.7 280.1h0M244.0 282.6h0M205.6 283.2h0M209.9 285.7h0M169.1 305.8h0M166.3 315.6h0M170.2 317.0h0M174.6 316.6h0M171.5 314.7h0M171.4 311.5h0M171.6 310.1h0M153.2 313.0h0M152.1 313.8h0M222.2 279.9h0M261.1 248.6h0M258.3 254.4h0M222.5 218.3h0M224.1 222.4h0M197.8 261.1h0M174.3 274.5h0M174.2 276.1h0M197.3 289.3h0M177.6 299.0h0M172.6 299.1h0M233.7 274.3h0M233.4 278.7h0M305.4 262.4h0M212.6 290.5h0M213.0 289.0h0M160.3 279.9h0M154.2 306.8h0M230.7 211.8h0M171.1 290.2h0M188.9 250.2h0M187.6 250.7h0M182.9 299.2h0M177.7 295.7h0M202.9 268.4h0M163.1 311.2h0M161.5 313.0h0M157.6 287.7h0M183.5 235.5h0M187.7 240.1h0M235.0 265.2h0M246.1 243.4h0M279.7 231.2h0M275.7 234.3h0M182.4 232.6h0M185.9 231.5h0M195.2 304.4h0M218.5 287.1h0M185.1 296.1h0M181.7 299.5h0M151.3 234.5h0M157.0 237.5h0M159.1 308.4h0M137.4 299.6h0M231.7 226.1h0M175.9 306.0h0M136.8 298.0h0M135.5 297.1h0M170.2 291.9h0M161.6 281.9h0M159.6 280.6h0M201.6 209.3h0M206.4 210.8h0M143.7 314.8h0M235.7 196.8h0M241.9 196.0h0M178.2 263.4h0M175.3 267.6h0M146.6 272.6h0M178.3 270.5h0M180.3 266.2h0M172.6 300.7h0M178.3 299.1h0M185.7 274.6h0M183.7 281.5h0M167.0 289.6h0M174.1 306.1h0M222.2 161.9h0M219.6 165.9h0M188.0 275.2h0M162.9 292.6h0M160.8 292.6h0M198.1 292.9h0M227.6 192.8h0M228.0 198.9h0M151.1 303.2h0M153.7 298.6h0M262.7 269.0h0M261.2 268.2h0M176.7 308.0h0M145.7 212.8h0M147.2 218.4h0M141.5 297.6h0M142.3 301.2h0M222.0 291.6h0M235.8 263.4h0M237.5 264.3h0M183.1 216.3h0M172.5 294.8h0M174.0 305.7h0M151.4 292.5h0M145.9 301.3h0M144.0 299.4h0M140.0 299.1h0M143.3 253.7h0M160.0 286.1h0M164.4 285.6h0M192.5 279.0h0M192.5 276.9h0M146.9 284.5h0M191.0 248.0h0M190.3 297.5h0M151.9 225.2h0M150.7 228.0h0M262.3 145.5h0M221.3 251.4h0M218.5 253.1h0M151.6 308.0h0M149.2 303.1h0M202.3 213.6h0M159.1 307.8h0M169.2 284.6h0M191.8 314.0h0M187.8 315.6h0M179.9 280.0h0M185.4 280.0h0M142.7 284.3h0M146.3 286.0h0M175.0 298.9h0M193.9 279.7h0M156.5 274.6h0M170.2 264.1h0M174.9 265.7h0M198.4 281.2h0M185.2 310.9h0M169.9 309.1h0M319.3 225.1h0M318.4 224.8h0M177.8 303.3h0M184.4 301.6h0M176.5 307.2h0M188.5 259.0h0M166.3 304.3h0M157.1 300.6h0M157.1 302.4h0M191.2 318.8h0M191.3 317.3h0M169.8 294.5h0M204.8 286.5h0M203.3 287.5h0M176.3 290.6h0M163.9 272.7h0M163.0 270.7h0M173.5 314.3h0M172.3 314.1h0M153.4 240.4h0M189.3 301.3h0M143.1 309.7h0M135.6 298.7h0M184.4 284.8h0M153.6 272.9h0M153.4 268.6h0M196.3 282.2h0M199.8 278.0h0M203.6 165.0h0M202.6 163.7h0M178.3 275.8h0M180.1 274.5h0M183.7 269.7h0M193.0 294.1h0M184.1 275.2h0M184.1 278.8h0M174.9 294.2h0M195.1 300.1h0M194.9 300.3h0M197.1 269.0h0M198.8 263.9h0M243.0 176.2h0M239.6 180.0h0M183.2 278.8h0M190.8 290.2h0M177.4 276.2h0M179.5 276.4h0M170.0 297.2h0M170.2 298.5h0M177.4 292.2h0M218.6 246.5h0M222.8 245.9h0M138.8 289.0h0M166.1 313.2h0M171.3 311.1h0M226.5 316.5h0M225.7 317.0h0M191.9 317.9h0M187.6 313.7h0M184.5 284.8h0M184.0 281.9h0M169.0 287.1h0M170.8 291.3h0M166.2 307.2h0M170.0 301.9h0M162.9 278.9h0M170.6 273.4h0M198.3 294.7h0M195.3 296.7h0M149.3 304.9h0M145.0 301.2h0M158.2 313.6h0" stroke="#999999" stroke-width="4.6" stroke-linecap="round" fill="none"/>
<g fill="none" stroke="#2E2E2E" stroke-width="1.25"><path d="M201.9 235.5C205.4 230.4 209.6 224.2 213.8 220.3C218.0 216.4 223.1 213.8 227.3 211.8C231.5 209.8 235.7 209.2 239.1 208.5C242.5 207.8 243.7 205.3 247.9 207.6C252.1 209.8 261.7 217.6 264.5 222.0C267.3 226.4 265.4 228.2 264.5 233.8C263.6 239.4 261.9 250.2 259.4 255.8C256.9 261.4 253.2 264.6 249.3 267.7C245.4 270.8 240.9 273.0 235.8 274.4C230.7 275.8 224.5 276.0 218.8 276.0C213.2 276.0 206.4 276.3 201.9 274.4C197.4 272.4 193.4 268.2 191.8 264.3C190.2 260.4 190.9 255.6 192.6 250.8C194.3 246.0 198.4 240.6 201.9 235.5Z"/><path d="M210.4 235.5C214.5 230.4 221.4 225.1 225.6 222.0C229.8 218.9 232.7 217.9 235.8 216.9C238.9 215.9 240.8 214.9 244.2 216.0C247.6 217.1 254.2 219.3 256.0 223.7C257.8 228.1 256.3 237.2 255.2 242.3C254.1 247.4 252.5 250.4 249.3 254.1C246.1 257.8 240.9 262.0 235.8 264.3C230.7 266.6 224.2 267.9 218.8 267.7C213.4 267.5 206.6 265.9 203.6 263.4C200.6 260.8 199.9 257.1 201.0 252.4C202.1 247.8 206.3 240.6 210.4 235.5Z"/><ellipse cx="230.2" cy="242.8" rx="26.0" ry="15.6" transform="rotate(139.5 230.2 242.8)"/><ellipse cx="230.1" cy="242.6" rx="22.3" ry="13.4" transform="rotate(139.5 230.1 242.6)"/><ellipse cx="230.0" cy="242.4" rx="18.8" ry="11.3" transform="rotate(139.5 230.0 242.4)"/><ellipse cx="229.9" cy="242.2" rx="15.6" ry="9.4" transform="rotate(139.5 229.9 242.2)"/><ellipse cx="229.7" cy="242.1" rx="12.6" ry="7.6" transform="rotate(139.5 229.7 242.1)"/><ellipse cx="229.6" cy="241.9" rx="9.7" ry="5.8" transform="rotate(139.5 229.6 241.9)"/><ellipse cx="229.5" cy="241.7" rx="7.0" ry="4.2" transform="rotate(139.5 229.5 241.7)"/><ellipse cx="229.4" cy="241.5" rx="4.4" ry="2.6" transform="rotate(139.5 229.4 241.5)"/></g>
</g>
<path d="M81.80 391.4v2.8M59.80 375.50h2.8M155.34 391.4v2.8M59.80 309.60h2.8M228.88 391.4v2.8M59.80 243.70h2.8M302.42 391.4v2.8M59.80 177.80h2.8M375.96 391.4v2.8M59.80 111.90h2.8M449.50 391.4v2.8M59.80 46.00h2.8" stroke="#333333" stroke-width="1.1" fill="none"/>
<text x="81.80" y="410.3" text-anchor="middle" class="tk">-100</text>
<text x="57.70" y="382.40" text-anchor="end" class="tk">-100</text>
<text x="155.34" y="410.3" text-anchor="middle" class="tk">-50</text>
<text x="57.70" y="316.50" text-anchor="end" class="tk">-50</text>
<text x="228.88" y="410.3" text-anchor="middle" class="tk">0</text>
<text x="57.70" y="250.60" text-anchor="end" class="tk">0</text>
<text x="302.42" y="410.3" text-anchor="middle" class="tk">50</text>
<text x="57.70" y="184.70" text-anchor="end" class="tk">50</text>
<text x="375.96" y="410.3" text-anchor="middle" class="tk">100</text>
<text x="57.70" y="118.80" text-anchor="end" class="tk">100</text>
<text x="449.50" y="410.3" text-anchor="middle" class="tk">150</text>
<text x="57.70" y="52.90" text-anchor="end" class="tk">150</text>
<text x="264.80" y="20.2" text-anchor="middle" class="tt">Winter Wheat + Winter Barley (n = 81,049)</text>
<text x="264.80" y="429.8" text-anchor="middle" class="at">Deviation of winter wheat yield (%)</text>
<text transform="translate(21.00 210.1) rotate(-90)" text-anchor="middle" class="yt">Deviation of winter barley yield (%)</text>
<rect x="536.1" y="29.0" width="404.9" height="362.4" fill="#EBEBEB"/>
<path d="M592.07 29.0V391.4M536.1 342.55H941.0M665.61 29.0V391.4M536.1 276.65H941.0M739.15 29.0V391.4M536.1 210.75H941.0M812.69 29.0V391.4M536.1 144.85H941.0M886.23 29.0V391.4M536.1 78.95H941.0" stroke="#FFFFFF" stroke-width="0.9" fill="none"/>
<path d="M555.30 29.0V391.4M536.1 375.50H941.0M628.84 29.0V391.4M536.1 309.60H941.0M702.38 29.0V391.4M536.1 243.70H941.0M775.92 29.0V391.4M536.1 177.80H941.0M849.46 29.0V391.4M536.1 111.90H941.0M923.00 29.0V391.4M536.1 46.00H941.0" stroke="#FFFFFF" stroke-width="1.3" fill="none"/>
<g clip-path="url(#c1)">
<path d="M691.5 167.6L682.4 175.9L682.2 176.1L669.2 187.1L668.6 187.5L654.9 197.3L643.5 206.8L634.0 217.3L624.5 228.5L621.0 250.3L622.9 274.9L627.7 298.7L635.0 316.9L645.3 329.6L660.9 332.0L689.5 334.0L713.0 329.6L725.9 315.8L740.4 296.5L754.5 273.0L760.2 248.2L760.4 247.4L760.8 246.6L767.8 231.6L768.1 231.0L768.4 230.4L768.9 229.9L769.3 229.3L776.4 222.3L772.9 214.6L768.6 206.9L759.5 197.8L747.7 187.0L735.9 177.2L726.3 169.3L709.6 165.1Z" fill="#999999"/>
<path d="M714.5 149.5h2.5v0.5h-2.5zM714 150h4v0.5h-4zM713.5 150.5h5v0.5h-5zM708 151h2v0.5h-2zM713 151h6v0.5h-6zM707.5 151.5h3v0.5h-3zM705 152h6v0.5h-6zM713 151.5h6.5v1.5h-6.5zM704.5 152.5h7v0.5h-7zM704 153h7.5v0.5h-7.5zM713.5 153h6v0.5h-6zM714 153.5h5v0.5h-5zM703.5 153.5h8v1.5h-8zM725.5 154.5h2v0.5h-2zM703.5 155h7.5v0.5h-7.5zM725 155h3v0.5h-3zM713.5 154h5v2h-5zM704 155.5h6.5v0.5h-6.5zM724.5 155.5h4v0.5h-4zM704 156h3.5v0.5h-3.5zM708 156h2v0.5h-2zM714 156h4v0.5h-4zM724 156h7v0.5h-7zM703.5 156.5h4v0.5h-4zM714.5 156.5h3v0.5h-3zM718.5 156.5h2v0.5h-2zM724 156.5h7.5v0.5h-7.5zM700 157h2v0.5h-2zM703 157h5v0.5h-5zM715 157h2v0.5h-2zM718 157h3v0.5h-3zM724 157h8v0.5h-8zM690.5 157.5h2.5v0.5h-2.5zM699.5 157.5h3v0.5h-3zM703 157.5h6.5v0.5h-6.5zM716 157.5h5.5v0.5h-5.5zM724 157.5h8.5v0.5h-8.5zM689.5 158h4v0.5h-4zM699 158h11v0.5h-11zM715.5 158h17v0.5h-17zM689 158.5h5v0.5h-5zM698.5 158.5h12v0.5h-12zM715 158.5h18.5v0.5h-18.5zM688.5 159h6v0.5h-6zM714.5 159h21v0.5h-21zM714.5 159.5h21.5v0.5h-21.5zM698.5 159h12.5v1.5h-12.5zM688 159.5h6.5v1h-6.5zM714.5 160h22v0.5h-22zM687 160.5h9v0.5h-9zM699 160.5h12v0.5h-12zM714.5 160.5h22.5v0.5h-22.5zM686.5 161h11v0.5h-11zM698.5 161h4v0.5h-4zM703 161h7.5v0.5h-7.5zM715 161h22v0.5h-22zM686 161.5h16.5v0.5h-16.5zM703.5 161.5h6.5v0.5h-6.5zM715.5 161.5h9v0.5h-9zM726 161.5h3.5v0.5h-3.5zM730 161.5h7v0.5h-7zM705 162h2v0.5h-2zM707.5 162h2v0.5h-2zM715.5 162h8.5v1.5h-8.5zM685.5 162h17.5v2h-17.5zM729.5 162h8v2h-8zM715.5 163.5h9v0.5h-9zM686 164h16.5v0.5h-16.5zM715.5 164h9.5v0.5h-9.5zM730 164h7.5v0.5h-7.5zM686.5 164.5h15.5v0.5h-15.5zM715.5 164.5h10v0.5h-10zM729.5 164.5h7.5v0.5h-7.5zM687 165h2v0.5h-2zM689.5 165h12.5v0.5h-12.5zM716 165h9.5v0.5h-9.5zM729 165h7.5v0.5h-7.5zM663.5 165.5h2v0.5h-2zM690 165.5h12.5v0.5h-12.5zM715.5 165.5h10v0.5h-10zM728.5 165.5h7.5v0.5h-7.5zM663 166h3v0.5h-3zM690.5 166h12v0.5h-12zM715.5 166h20v0.5h-20zM662 166.5h4.5v0.5h-4.5zM691 166.5h11.5v1h-11.5zM715.5 166.5h20.5v1h-20.5zM661.5 167h5.5v0.5h-5.5zM661 167.5h6v0.5h-6zM691.5 167.5h10.5v0.5h-10.5zM716 167.5h20v0.5h-20zM692 168h9.5v0.5h-9.5zM716.5 168h19.5v0.5h-19.5zM660.5 168h6.5v1h-6.5zM692.5 168.5h2v0.5h-2zM695 168.5h6v0.5h-6zM717 168.5h18.5v0.5h-18.5zM660.5 169h6v0.5h-6zM695.5 169h4.5v0.5h-4.5zM719 169h16v0.5h-16zM660.5 169.5h5.5v0.5h-5.5zM696.5 169.5h3v0.5h-3zM719.5 169.5h15.5v0.5h-15.5zM660.5 170h5v0.5h-5zM697 170h2v0.5h-2zM720 170h16.5v0.5h-16.5zM661 170.5h4v0.5h-4zM722.5 170.5h14.5v0.5h-14.5zM739.5 170.5h2.5v0.5h-2.5zM661.5 171h3v0.5h-3zM723 171h2v0.5h-2zM727 171h11v0.5h-11zM739 171h3.5v0.5h-3.5zM662 171.5h2v0.5h-2zM726.5 171.5h16.5v0.5h-16.5zM726.5 172h17v1h-17zM726.5 173h17.5v0.5h-17.5zM665 173.5h2v0.5h-2zM669 173.5h2v0.5h-2zM727 173.5h17.5v0.5h-17.5zM664.5 174h3.5v0.5h-3.5zM668.5 174h3v0.5h-3zM727 174h18v0.5h-18zM664 174.5h8v0.5h-8zM727 174.5h18.5v0.5h-18.5zM760 174.5h2v0.5h-2zM727 175h19v0.5h-19zM756.5 175h2.5v0.5h-2.5zM759.5 175h3v0.5h-3zM727.5 175.5h19v0.5h-19zM756 175.5h7v0.5h-7zM663.5 175h9v1.5h-9zM728 176h18.5v0.5h-18.5zM755.5 176h8v0.5h-8zM728.5 176.5h2v0.5h-2zM663.5 176.5h9.5v1h-9.5zM731 176.5h15.5v1.5h-15.5zM755 176.5h8.5v1.5h-8.5zM663 177.5h12v0.5h-12zM663 178h15v0.5h-15zM731 178h16v0.5h-16zM755 178h8v0.5h-8zM663 178.5h15.5v0.5h-15.5zM731 178.5h16.5v0.5h-16.5zM754.5 178.5h8v0.5h-8zM662.5 179h16.5v0.5h-16.5zM731.5 179h16v0.5h-16zM754.5 179h7.5v0.5h-7.5zM662 179.5h17.5v0.5h-17.5zM732 179.5h15.5v0.5h-15.5zM754.5 179.5h5.5v1h-5.5zM732.5 180h15v0.5h-15zM733 180.5h7v0.5h-7zM740.5 180.5h7v0.5h-7zM755 180.5h4.5v0.5h-4.5zM661.5 180h18v1.5h-18zM733.5 181h6v0.5h-6zM740 181h7.5v0.5h-7.5zM755.5 181h3.5v0.5h-3.5zM661.5 181.5h17.5v0.5h-17.5zM734 181.5h4.5v0.5h-4.5zM739.5 181.5h8.5v0.5h-8.5zM756 181.5h2.5v0.5h-2.5zM661.5 182h17v0.5h-17zM734.5 182h3.5v0.5h-3.5zM739 182h9.5v0.5h-9.5zM662 182.5h16v0.5h-16zM750.5 183h2v0.5h-2zM750 183.5h5v0.5h-5zM739 182.5h10v2h-10zM749.5 184h6v0.5h-6zM759.5 184h2v0.5h-2zM661.5 183h12v2h-12zM739.5 184.5h9v0.5h-9zM749 184.5h7v0.5h-7zM759 184.5h3v0.5h-3zM740 185h8v0.5h-8zM748.5 185h8v0.5h-8zM758.5 185h4v0.5h-4zM661 185h12v1h-12zM740.5 185.5h7v0.5h-7zM748 185.5h8.5v0.5h-8.5zM758 185.5h5v1h-5zM660.5 186h12.5v0.5h-12.5zM741 186h6v0.5h-6zM747.5 186h9v0.5h-9zM660 186.5h12.5v0.5h-12.5zM741.5 186.5h4v0.5h-4zM747 186.5h9.5v0.5h-9.5zM757.5 186.5h5.5v1h-5.5zM660 187h12v0.5h-12zM742 187h3v0.5h-3zM746.5 187h9.5v0.5h-9.5zM660 187.5h11.5v0.5h-11.5zM742.5 187.5h2v0.5h-2zM746.5 187.5h9v1.5h-9zM757.5 187.5h5v1.5h-5zM660 188h10.5v1h-10.5zM660.5 189h10v0.5h-10zM747 189h8.5v0.5h-8.5zM758 189h4v0.5h-4zM653.5 189.5h4v0.5h-4zM661 189.5h9.5v0.5h-9.5zM747.5 189.5h8v0.5h-8zM758.5 189.5h3v0.5h-3zM653 190h5v0.5h-5zM661.5 190h9v0.5h-9zM748 190h7.5v0.5h-7.5zM759 190h2v0.5h-2zM652.5 190.5h6v0.5h-6zM662.5 190.5h8v0.5h-8zM750 190.5h5.5v0.5h-5.5zM764 190.5h2.5v0.5h-2.5zM662.5 191h7.5v0.5h-7.5zM750.5 191h5v0.5h-5zM763.5 191h3.5v0.5h-3.5zM639.5 191.5h2v0.5h-2zM663 191.5h6.5v0.5h-6.5zM751 191.5h4v0.5h-4zM763 191.5h4.5v0.5h-4.5zM639 192h3v0.5h-3zM663.5 192h5.5v0.5h-5.5zM751.5 192h3v0.5h-3zM758.5 192h2v0.5h-2zM762.5 192h5.5v0.5h-5.5zM652 191h7v2h-7zM638.5 192.5h4v0.5h-4zM664 192.5h3.5v0.5h-3.5zM752 192.5h2v0.5h-2zM756.5 192.5h4.5v0.5h-4.5zM762.5 192.5h6.5v0.5h-6.5zM637 193h6v0.5h-6zM652.5 193h6.5v0.5h-6.5zM665 193h2v0.5h-2zM756 193h5.5v0.5h-5.5zM762.5 193h7v0.5h-7zM636.5 193.5h6.5v0.5h-6.5zM643.5 193.5h2v0.5h-2zM653 193.5h5.5v0.5h-5.5zM755.5 193.5h6.5v0.5h-6.5zM762.5 193.5h7.5v0.5h-7.5zM636 194h10v0.5h-10zM653.5 194h4.5v0.5h-4.5zM763 194h7.5v0.5h-7.5zM635.5 194.5h11v0.5h-11zM655.5 194.5h2v0.5h-2zM755 194h7v1.5h-7zM763.5 194.5h7v1.5h-7zM755 195.5h6.5v0.5h-6.5zM635.5 195h11.5v1.5h-11.5zM755.5 196h5.5v0.5h-5.5zM763.5 196h6.5v0.5h-6.5zM756 196.5h4.5v0.5h-4.5zM763.5 196.5h6v0.5h-6zM635 196.5h12v1h-12zM756.5 197h2v0.5h-2zM764 197h5v0.5h-5zM635 197.5h11.5v0.5h-11.5zM764.5 197.5h3.5v0.5h-3.5zM635 198h11v0.5h-11zM765 198h2v0.5h-2zM635.5 198.5h10v0.5h-10zM636 199h8v0.5h-8zM636.5 199.5h10.5v0.5h-10.5zM637 200h10.5v0.5h-10.5zM637 200.5h11v0.5h-11zM637.5 201h11v0.5h-11zM638 201.5h11v0.5h-11zM638.5 202h11v0.5h-11zM638.5 202.5h11.5v1.5h-11.5zM773 203.5h2v0.5h-2zM638 204h12v0.5h-12zM772.5 204h3.5v0.5h-3.5zM635.5 204.5h14v0.5h-14zM772 204.5h6v0.5h-6zM635 205h14v0.5h-14zM771.5 205h7v0.5h-7zM634.5 205.5h14v0.5h-14zM770.5 205.5h8.5v0.5h-8.5zM634 206h13.5v0.5h-13.5zM770 206h9.5v0.5h-9.5zM769.5 206.5h10v0.5h-10zM769 207h11v0.5h-11zM634 206.5h13v1.5h-13zM627.5 208h2v0.5h-2zM633 208h14v0.5h-14zM769 207.5h11.5v1.5h-11.5zM627 208.5h3v0.5h-3zM632.5 208.5h14v0.5h-14zM626.5 209h19.5v0.5h-19.5zM769.5 209h11v0.5h-11zM626 209.5h19.5v0.5h-19.5zM770 209.5h10.5v0.5h-10.5zM626 210h17.5v0.5h-17.5zM770.5 210h9.5v0.5h-9.5zM626 210.5h15.5v0.5h-15.5zM771 210.5h9v0.5h-9zM625.5 211h16v0.5h-16zM770 211h10v0.5h-10zM769.5 211.5h10.5v0.5h-10.5zM625 211.5h16.5v1h-16.5zM769 212h11v0.5h-11zM625 212.5h17v0.5h-17zM783 212.5h2.5v0.5h-2.5zM768.5 212.5h11.5v1h-11.5zM782.5 213h3.5v0.5h-3.5zM625 213h17.5v1h-17.5zM768.5 213.5h11v0.5h-11zM782 213.5h4.5v0.5h-4.5zM625.5 214h17v0.5h-17zM768.5 214h10.5v0.5h-10.5zM626 214.5h16.5v0.5h-16.5zM626.5 215h15.5v0.5h-15.5zM781.5 214h5.5v2h-5.5zM627 215.5h14.5v0.5h-14.5zM768.5 214.5h11v2h-11zM627 216h14v0.5h-14zM782 216h4.5v0.5h-4.5zM627 216.5h12.5v0.5h-12.5zM768.5 216.5h10.5v0.5h-10.5zM782.5 216.5h3.5v0.5h-3.5zM627 217h12v0.5h-12zM783 217h3.5v0.5h-3.5zM768.5 217h10v1h-10zM627 217.5h6v0.5h-6zM633.5 217.5h3.5v0.5h-3.5zM783 217.5h4v0.5h-4zM627.5 218h4v0.5h-4zM634 218h2.5v0.5h-2.5zM769 218h10v0.5h-10zM628 218.5h3v0.5h-3zM769.5 218.5h10v0.5h-10zM628.5 219h2v0.5h-2zM770 219h10v0.5h-10zM782.5 218h5v2h-5zM770.5 219.5h10v0.5h-10zM771 220h2v0.5h-2zM773.5 220h7v0.5h-7zM783 220h4v0.5h-4zM773 220.5h7.5v0.5h-7.5zM783.5 220.5h3v0.5h-3zM772.5 221h8v0.5h-8zM783.5 221h2.5v0.5h-2.5zM618 221.5h4v0.5h-4zM772 221.5h9v0.5h-9zM783 221.5h3v0.5h-3zM617.5 222h6v0.5h-6zM771 222h15.5v0.5h-15.5zM617 222.5h7v0.5h-7zM770.5 222.5h16.5v0.5h-16.5zM616 223h8.5v0.5h-8.5zM770 223h17v0.5h-17zM615.5 223.5h9.5v0.5h-9.5zM769.5 223.5h17.5v0.5h-17.5zM615 224h10v0.5h-10zM769.5 224h18.5v0.5h-18.5zM769.5 224.5h19v0.5h-19zM614.5 224.5h10.5v1h-10.5zM767.5 225h22.5v0.5h-22.5zM614.5 225.5h10v0.5h-10zM767 225.5h23.5v0.5h-23.5zM614.5 226h9.5v0.5h-9.5zM766.5 226h24.5v0.5h-24.5zM766 226.5h25.5v0.5h-25.5zM765.5 227h26v0.5h-26zM615 226.5h9v1.5h-9zM765 227.5h26.5v0.5h-26.5zM615 228h8.5v0.5h-8.5zM764.5 228h27v0.5h-27zM615.5 228.5h7.5v0.5h-7.5zM764.5 228.5h26.5v0.5h-26.5zM616 229h3.5v0.5h-3.5zM620 229h2.5v0.5h-2.5zM764 229h26.5v0.5h-26.5zM616.5 229.5h2.5v0.5h-2.5zM763.5 229.5h26.5v0.5h-26.5zM763.5 230h21.5v0.5h-21.5zM785.5 230h4v0.5h-4zM763.5 230.5h20.5v1h-20.5zM763.5 231.5h20v0.5h-20zM763.5 232h19.5v0.5h-19.5zM776.5 232.5h2v0.5h-2zM780 232.5h4.5v0.5h-4.5zM763 232.5h12.5v1h-12.5zM782 233h5v0.5h-5zM762.5 233.5h13.5v0.5h-13.5zM781.5 233.5h6v0.5h-6zM762.5 234h14v0.5h-14zM781 234h7v0.5h-7zM762 234.5h15v0.5h-15zM781 234.5h7.5v1h-7.5zM761.5 235h15.5v0.5h-15.5zM761 235.5h16.5v0.5h-16.5zM779.5 235.5h9v0.5h-9zM760.5 236h17.5v0.5h-17.5zM779 236h9.5v0.5h-9.5zM760.5 236.5h27.5v0.5h-27.5zM760.5 237h27v0.5h-27zM760.5 237.5h22.5v0.5h-22.5zM785 237.5h2v0.5h-2zM761 238h22v0.5h-22zM760.5 238.5h22.5v0.5h-22.5zM760 239h22.5v0.5h-22.5zM619 239.5h2v0.5h-2zM760 239.5h22v0.5h-22zM618.5 240h3v0.5h-3zM759.5 240h22v0.5h-22zM618 240.5h4v0.5h-4zM759 240.5h21v0.5h-21zM617.5 241h5v0.5h-5zM758.5 241h21v0.5h-21zM616.5 241.5h6v0.5h-6zM758 241.5h21v0.5h-21zM616 242h6.5v0.5h-6.5zM758 242h16v0.5h-16zM774.5 242h4v0.5h-4zM615.5 242.5h7v0.5h-7zM758 242.5h15.5v0.5h-15.5zM775 242.5h2v0.5h-2zM615 243h7.5v0.5h-7.5zM758 243h16.5v0.5h-16.5zM615 243.5h7v0.5h-7zM758 243.5h17v0.5h-17zM615 244h6.5v0.5h-6.5zM757.5 244h18v0.5h-18zM615 244.5h6v0.5h-6zM757 244.5h19v1h-19zM615.5 245h4v0.5h-4zM616 245.5h3v0.5h-3zM756.5 245.5h19.5v0.5h-19.5zM616.5 246h2v0.5h-2zM756 246h20v0.5h-20zM755.5 246.5h20v0.5h-20zM755.5 247h19.5v1.5h-19.5zM755.5 248.5h20v1h-20zM780 249.5h2v0.5h-2zM756 249.5h19.5v1h-19.5zM779.5 250h3v0.5h-3zM756.5 250.5h18.5v0.5h-18.5zM779 250.5h4v0.5h-4zM757 251h17.5v0.5h-17.5zM757.5 251.5h16.5v0.5h-16.5zM757.5 252h14v0.5h-14zM778.5 251h5v2h-5zM757 252.5h14v0.5h-14zM772.5 253h2v0.5h-2zM779 253h4v0.5h-4zM756.5 253h13.5v1h-13.5zM772 253.5h3v0.5h-3zM779.5 253.5h3v0.5h-3zM756.5 254h13v0.5h-13zM770.5 254h5v0.5h-5zM780 254h2v0.5h-2zM756 254.5h13v0.5h-13zM770 254.5h6.5v0.5h-6.5zM755.5 255h13v0.5h-13zM769.5 255h7.5v0.5h-7.5zM755 255.5h13v0.5h-13zM768.5 255.5h9v0.5h-9zM755 256h23v0.5h-23zM754.5 256.5h23.5v0.5h-23.5zM754 257h24v1h-24zM753.5 258h25v0.5h-25zM613.5 258.5h2v0.5h-2zM753 258.5h26v1h-26zM613 259h6.5v0.5h-6.5zM612.5 259.5h7.5v0.5h-7.5zM753 259.5h26.5v0.5h-26.5zM612 260h8.5v0.5h-8.5zM753 260h27v0.5h-27zM753 260.5h27.5v0.5h-27.5zM612 260.5h9v1.5h-9zM753 261h28v1.5h-28zM612.5 262h8.5v0.5h-8.5zM613 262.5h8v0.5h-8zM752.5 262.5h28.5v0.5h-28.5zM613.5 263h7v0.5h-7zM752 263h28.5v0.5h-28.5zM614 263.5h6v0.5h-6zM751.5 263.5h28.5v0.5h-28.5zM751.5 264h25.5v0.5h-25.5zM777.5 264h2v0.5h-2zM614.5 264h5.5v2h-5.5zM751.5 264.5h25v1.5h-25zM615 266h4.5v0.5h-4.5zM751.5 266h25.5v0.5h-25.5zM615.5 266.5h3.5v0.5h-3.5zM751.5 266.5h26v0.5h-26zM616 267h2.5v0.5h-2.5zM751.5 267h26.5v0.5h-26.5zM751.5 267.5h27v0.5h-27zM751 268h27.5v0.5h-27.5zM751 268.5h28v1.5h-28zM751 270h15.5v0.5h-15.5zM767 270h12v0.5h-12zM751 270.5h27.5v0.5h-27.5zM750.5 271h27.5v0.5h-27.5zM750 271.5h16v0.5h-16zM766.5 271.5h11v0.5h-11zM749.5 272h16v0.5h-16zM766.5 272h9v0.5h-9zM749 272.5h16v0.5h-16zM766.5 272.5h8.5v0.5h-8.5zM766 273h8.5v1h-8.5zM749 273h15.5v1.5h-15.5zM766 274h9v1h-9zM748.5 274.5h16v0.5h-16zM748.5 275h15.5v0.5h-15.5zM766.5 275h8.5v0.5h-8.5zM748.5 275.5h15v0.5h-15zM767 275.5h8v0.5h-8zM748.5 276h14.5v0.5h-14.5zM767.5 276h7v0.5h-7zM748.5 276.5h13v0.5h-13zM769 276.5h5v0.5h-5zM748.5 277h11.5v0.5h-11.5zM769.5 277h4v0.5h-4zM748.5 277.5h8.5v0.5h-8.5zM760.5 277.5h2v0.5h-2zM748 278h8.5v0.5h-8.5zM760 278h3v0.5h-3zM759.5 278.5h5v0.5h-5zM759 279h6v0.5h-6zM747.5 278.5h9.5v1.5h-9.5zM758.5 279.5h7v0.5h-7zM758 280h8v0.5h-8zM757.5 280.5h9v0.5h-9zM747 280h10v1.5h-10zM757.5 281h10v0.5h-10zM746.5 281.5h21.5v0.5h-21.5zM746 282h22.5v0.5h-22.5zM744.5 282.5h24.5v0.5h-24.5zM744 283h25v0.5h-25zM743.5 283.5h26v0.5h-26zM743 284h26.5v0.5h-26.5zM742.5 284.5h27v1h-27zM742.5 285.5h26.5v0.5h-26.5zM742 286h18.5v0.5h-18.5zM762 286h6.5v0.5h-6.5zM762.5 286.5h5.5v0.5h-5.5zM741.5 286.5h19v1h-19zM762.5 287h5v1h-5zM741.5 287.5h18.5v0.5h-18.5zM741.5 288h18v0.5h-18zM763 288h4v0.5h-4zM742 288.5h17v0.5h-17zM763.5 288.5h3v0.5h-3zM742.5 289h3v0.5h-3zM746.5 289h12v0.5h-12zM759 289h3.5v0.5h-3.5zM764 289h2v0.5h-2zM743 289.5h2v0.5h-2zM746 289.5h17v0.5h-17zM744.5 290h19v0.5h-19zM744 290.5h20v0.5h-20zM743.5 291h20.5v0.5h-20.5zM625.5 291.5h4v0.5h-4zM740.5 291.5h23.5v0.5h-23.5zM625 292h5v0.5h-5zM740 292h24v0.5h-24zM624.5 292.5h6v0.5h-6zM739.5 292.5h24v0.5h-24zM738 293h26v0.5h-26zM736.5 293.5h28v0.5h-28zM736 294h28.5v0.5h-28.5zM624 293h7v2h-7zM735.5 294.5h29v0.5h-29zM624 295h6.5v0.5h-6.5zM735 295h29.5v0.5h-29.5zM624.5 295.5h6v0.5h-6zM735 295.5h12v0.5h-12zM747.5 295.5h17v0.5h-17zM767 295.5h2v0.5h-2zM625 296h5.5v0.5h-5.5zM735 296h29v0.5h-29zM766.5 296h3v0.5h-3zM734.5 296.5h29.5v0.5h-29.5zM766 296.5h4v0.5h-4zM625.5 296.5h5v1h-5zM734.5 297h30v0.5h-30zM765 297h5.5v0.5h-5.5zM626 297.5h4v0.5h-4zM626.5 298h3v0.5h-3zM734.5 297.5h36v1.5h-36zM627 298.5h2v0.5h-2zM735 299h35.5v0.5h-35.5zM735 299.5h6.5v0.5h-6.5zM742 299.5h9.5v0.5h-9.5zM753 299.5h17v0.5h-17zM735 300h7v0.5h-7zM743 300h9v0.5h-9zM753.5 300h16v0.5h-16zM735.5 300.5h17v0.5h-17zM754.5 300.5h14.5v0.5h-14.5zM731.5 301h3.5v0.5h-3.5zM736 301h17v0.5h-17zM754.5 301h14v1h-14zM731 301.5h22v0.5h-22zM730.5 302h22.5v0.5h-22.5zM755 302h13v0.5h-13zM730 302.5h23v0.5h-23zM755.5 302.5h12v0.5h-12zM730 303h22.5v0.5h-22.5zM756 303h11v0.5h-11zM730 303.5h22v0.5h-22zM757.5 303.5h8v0.5h-8zM729 304h22.5v0.5h-22.5zM758 304h7v0.5h-7zM728.5 304.5h21.5v0.5h-21.5zM758.5 304.5h3v0.5h-3zM728 305h21.5v0.5h-21.5zM759 305h2v0.5h-2zM727.5 305.5h21.5v1h-21.5zM727.5 306.5h21v0.5h-21zM727.5 307h20.5v0.5h-20.5zM728 307.5h8.5v0.5h-8.5zM737.5 307.5h10v0.5h-10zM728.5 308h7.5v0.5h-7.5zM738 308h8.5v0.5h-8.5zM729 308.5h6.5v0.5h-6.5zM736 308.5h2v0.5h-2zM740.5 308.5h5.5v0.5h-5.5zM729.5 309h9v0.5h-9zM741 309h4.5v0.5h-4.5zM730 309.5h9v0.5h-9zM741.5 309.5h2v0.5h-2zM730.5 310h9v0.5h-9zM731 310.5h8.5v0.5h-8.5zM634 311h2v0.5h-2zM732.5 311h7v1h-7zM633.5 311.5h3v0.5h-3zM632 312h5v0.5h-5zM732 312h7v0.5h-7zM631.5 312.5h6v0.5h-6zM732 312.5h6.5v1h-6.5zM631 313h6.5v0.5h-6.5zM732 313.5h7v0.5h-7zM630.5 313.5h7v1h-7zM732 314h7.5v0.5h-7.5zM630.5 314.5h6.5v0.5h-6.5zM630.5 315h7v0.5h-7zM721 315h3.5v0.5h-3.5zM732 314.5h8v1.5h-8zM720.5 315.5h4.5v0.5h-4.5zM631 315.5h7v1h-7zM720 316h5.5v0.5h-5.5zM732 316h8.5v0.5h-8.5zM732 316.5h9v0.5h-9zM631.5 316.5h6.5v1h-6.5zM719.5 316.5h6.5v1.5h-6.5zM732.5 317h9v1h-9zM631.5 317.5h6v0.5h-6zM632 318h5v0.5h-5zM719 318h7v0.5h-7zM632.5 318.5h4v0.5h-4zM718.5 318.5h7.5v0.5h-7.5zM732 318h9.5v1.5h-9.5zM633 319h2v0.5h-2zM718 319h7.5v0.5h-7.5zM729 319h2v0.5h-2zM717.5 319.5h8.5v0.5h-8.5zM728.5 319.5h3v0.5h-3zM732 319.5h9v0.5h-9zM717.5 320h14.5v0.5h-14.5zM732.5 320h8v0.5h-8zM733 320.5h7v0.5h-7zM717.5 320.5h15v1h-15zM733.5 321h5v0.5h-5zM718 321.5h14.5v0.5h-14.5zM735 321.5h3v0.5h-3zM718.5 322h14v0.5h-14zM719 322.5h2v0.5h-2zM722.5 322.5h10v0.5h-10zM724.5 323h8v0.5h-8zM725 323.5h7.5v1h-7.5zM713.5 324h2v0.5h-2zM718.5 324h2v0.5h-2zM711.5 324.5h9.5v0.5h-9.5zM725 324.5h7v0.5h-7zM711 325h10.5v0.5h-10.5zM725.5 325h6v0.5h-6zM710.5 325.5h11.5v0.5h-11.5zM726 325.5h5v0.5h-5zM726.5 326h2v0.5h-2zM710 326h12v1h-12zM709.5 327h13v0.5h-13zM723 327h2v0.5h-2zM709 327.5h16.5v0.5h-16.5zM708.5 328h17.5v0.5h-17.5zM661.5 328.5h2v0.5h-2zM659 329h5v0.5h-5zM708.5 328.5h18v1.5h-18zM658.5 329.5h6v0.5h-6zM658 330h7v0.5h-7zM684 330h2v0.5h-2zM709 330h17.5v0.5h-17.5zM657.5 330.5h7.5v0.5h-7.5zM683.5 330.5h3v0.5h-3zM709.5 330.5h16.5v0.5h-16.5zM657.5 331h8v0.5h-8zM672.5 331h2v0.5h-2zM681 331h6v0.5h-6zM710 331h16v0.5h-16zM657.5 331.5h8.5v0.5h-8.5zM672 331.5h3v0.5h-3zM680.5 331.5h7v0.5h-7zM708.5 331.5h2v0.5h-2zM712.5 331.5h13v0.5h-13zM671.5 332h4v0.5h-4zM680 332h7.5v0.5h-7.5zM706 332h19.5v0.5h-19.5zM671 332.5h5v0.5h-5zM705.5 332.5h20v0.5h-20zM671 333h5.5v0.5h-5.5zM705 333h20v0.5h-20zM657.5 332h9v2h-9zM679.5 332.5h8v1.5h-8zM671 333.5h6v0.5h-6zM704.5 333.5h16.5v0.5h-16.5zM721.5 333.5h3v0.5h-3zM658 334h8.5v0.5h-8.5zM704.5 334h16v0.5h-16zM722 334h2v0.5h-2zM679.5 334h8.5v1h-8.5zM695 334.5h2v0.5h-2zM704.5 334.5h16.5v0.5h-16.5zM680 335h8v0.5h-8zM694.5 335h3v0.5h-3zM704.5 335h18v0.5h-18zM671 334h6.5v2h-6.5zM658.5 334.5h8v1.5h-8zM680.5 335.5h7.5v0.5h-7.5zM694 335.5h4v0.5h-4zM705 335.5h18v0.5h-18zM658.5 336h7.5v0.5h-7.5zM671.5 336h6.5v0.5h-6.5zM681 336h6.5v0.5h-6.5zM705.5 336h18v0.5h-18zM658.5 336.5h7v0.5h-7zM671.5 336.5h7v0.5h-7zM682 336.5h5v0.5h-5zM706 336.5h2v0.5h-2zM710.5 336.5h13.5v0.5h-13.5zM693.5 336h5v1.5h-5zM659 337h6v0.5h-6zM671 337h7.5v0.5h-7.5zM684.5 337h2v0.5h-2zM659.5 337.5h5.5v0.5h-5.5zM693.5 337.5h5.5v0.5h-5.5zM710.5 337h5v1.5h-5zM716 337h8v1.5h-8zM670.5 337.5h8v1h-8zM659 338h6.5v0.5h-6.5zM694 338h5.5v0.5h-5.5zM693.5 338.5h6.5v0.5h-6.5zM711 338.5h4v0.5h-4zM716 338.5h7.5v0.5h-7.5zM670.5 338.5h8.5v1h-8.5zM691 339h9.5v0.5h-9.5zM711.5 339h3v0.5h-3zM715.5 339h7.5v0.5h-7.5zM658.5 338.5h7.5v1.5h-7.5zM671 339.5h8v0.5h-8zM690.5 339.5h10v0.5h-10zM712 339.5h2v0.5h-2zM715 339.5h7.5v0.5h-7.5zM671.5 340h7.5v0.5h-7.5zM690 340h10.5v0.5h-10.5zM689.5 340.5h11.5v0.5h-11.5zM672 340.5h7v1h-7zM689.5 341h12v0.5h-12zM710 341h2v0.5h-2zM658 340h8.5v2h-8.5zM714.5 340h7.5v2h-7.5zM669.5 341.5h9.5v0.5h-9.5zM709.5 341.5h3v0.5h-3zM689.5 341.5h12.5v1h-12.5zM658.5 342h7.5v0.5h-7.5zM669 342h10v0.5h-10zM709 342h4v0.5h-4zM715 342h6.5v0.5h-6.5zM659 342.5h6.5v0.5h-6.5zM668.5 342.5h10v0.5h-10zM690 342.5h12v0.5h-12zM715.5 342.5h5.5v0.5h-5.5zM659.5 343h5.5v0.5h-5.5zM668 343h10v0.5h-10zM690.5 343h11.5v0.5h-11.5zM715.5 343h5v1h-5zM660 343.5h3v0.5h-3zM675.5 343.5h2v0.5h-2zM691 343.5h11v0.5h-11zM708.5 342.5h5v2h-5zM660.5 344h2v0.5h-2zM692 344h9.5v0.5h-9.5zM716 344h4v0.5h-4zM668 343.5h5.5v1.5h-5.5zM692.5 344.5h8.5v0.5h-8.5zM709 344.5h4v0.5h-4zM716.5 344.5h3v0.5h-3zM668.5 345h4.5v0.5h-4.5zM693 345h7.5v0.5h-7.5zM709.5 345h3v0.5h-3zM717 345h2v0.5h-2zM669 345.5h3.5v0.5h-3.5zM693.5 345.5h5v0.5h-5zM710 345.5h2v0.5h-2zM669.5 346h2.5v0.5h-2.5zM695 346h3v0.5h-3zM695.5 346.5h2v0.5h-2z" fill="#999999"/>
<path d="M640.8 51.9h0M694.1 68.9h0M682.4 72.7h0M712.1 77.6h0M729.0 72.6h0M806.2 78.1h0M637.0 111.4h0M658.9 107.7h0M650.8 107.5h0M640.3 97.6h0M695.4 103.3h0M693.1 79.9h0M668.1 95.3h0M704.1 99.6h0M720.5 94.0h0M723.9 98.1h0M738.5 110.6h0M722.6 83.9h0M713.4 111.8h0M719.8 105.0h0M743.3 111.6h0M754.5 105.0h0M744.5 102.1h0M750.2 93.7h0M782.8 92.5h0M607.1 127.1h0M651.7 131.1h0M638.5 144.5h0M649.6 137.1h0M661.6 136.3h0M639.0 144.0h0M677.6 116.7h0M695.6 130.5h0M694.5 141.3h0M675.6 124.1h0M685.0 115.3h0M699.0 135.4h0M695.8 127.7h0M676.0 118.0h0M692.8 141.6h0M676.6 121.9h0M670.7 132.9h0M701.3 131.6h0M667.6 114.7h0M675.6 120.6h0M735.1 119.3h0M727.4 120.8h0M720.6 129.3h0M730.4 119.6h0M703.7 114.0h0M706.2 126.9h0M704.3 144.8h0M708.7 127.2h0M724.1 132.8h0M718.4 122.1h0M727.4 136.7h0M721.6 125.9h0M731.0 136.9h0M728.8 130.0h0M726.8 134.0h0M730.0 140.0h0M733.8 137.4h0M706.6 143.0h0M728.8 128.9h0M729.2 117.8h0M702.9 128.3h0M738.3 141.5h0M725.9 131.2h0M726.0 139.2h0M710.6 135.6h0M704.7 144.7h0M713.8 114.4h0M712.8 131.3h0M718.8 130.0h0M725.6 143.0h0M714.1 141.1h0M717.9 117.3h0M709.0 119.3h0M703.4 125.7h0M723.3 125.2h0M712.4 115.0h0M705.4 126.3h0M710.7 128.5h0M724.2 141.2h0M707.0 139.1h0M765.6 114.9h0M740.0 139.3h0M756.0 122.3h0M753.3 125.4h0M751.1 126.0h0M743.1 136.3h0M764.4 137.8h0M750.7 134.1h0M740.7 123.8h0M741.6 135.2h0M791.2 131.9h0M836.0 119.4h0M608.2 160.2h0M604.8 176.9h0M609.6 170.2h0M620.3 163.7h0M613.6 169.5h0M641.2 150.4h0M631.0 168.0h0M657.8 162.9h0M655.3 148.2h0M645.9 155.0h0M632.9 172.8h0M654.9 154.5h0M653.9 170.0h0M659.9 170.8h0M664.3 169.1h0M655.7 151.4h0M638.1 161.9h0M664.5 170.3h0M655.7 172.3h0M663.5 150.6h0M654.3 177.1h0M633.8 174.2h0M648.5 148.6h0M657.9 158.5h0M651.7 158.6h0M647.4 163.2h0M648.9 175.2h0M660.1 169.7h0M654.7 168.6h0M669.2 173.8h0M701.9 150.7h0M702.2 148.0h0M672.2 167.9h0M694.3 159.8h0M677.7 149.5h0M700.8 147.2h0M684.3 177.4h0M673.7 165.8h0M675.7 148.0h0M684.6 161.0h0M695.3 145.1h0M669.1 172.0h0M673.4 149.1h0M674.6 171.2h0M700.4 163.7h0M698.6 147.8h0M699.5 147.8h0M675.6 173.9h0M695.1 169.1h0M668.1 152.3h0M671.3 162.5h0M683.3 162.2h0M685.1 174.6h0M673.6 172.5h0M685.3 155.0h0M690.7 162.3h0M702.4 157.6h0M683.9 146.0h0M684.3 147.9h0M666.2 164.7h0M674.6 151.1h0M675.8 160.5h0M671.5 148.7h0M667.0 162.3h0M688.1 165.4h0M677.9 166.1h0M729.1 148.5h0M712.9 148.8h0M722.7 164.4h0M731.8 145.0h0M707.9 166.2h0M720.1 169.0h0M729.0 153.7h0M722.7 164.4h0M721.1 169.7h0M705.0 167.3h0M709.5 153.6h0M734.5 145.2h0M735.2 155.4h0M719.9 153.5h0M717.4 145.3h0M738.9 152.2h0M737.4 162.5h0M725.3 161.9h0M724.5 151.0h0M738.2 153.9h0M715.9 162.5h0M737.4 149.7h0M706.2 151.4h0M725.6 170.4h0M705.4 153.2h0M706.1 164.6h0M725.0 170.2h0M727.9 148.5h0M718.3 145.9h0M735.2 151.7h0M711.4 164.8h0M724.6 150.1h0M711.4 159.8h0M735.7 167.2h0M726.7 154.4h0M720.4 169.6h0M725.2 171.3h0M713.7 153.2h0M715.5 147.6h0M725.2 150.4h0M732.2 150.8h0M728.6 167.9h0M726.6 145.2h0M710.2 164.3h0M715.2 156.4h0M718.0 152.8h0M738.6 146.6h0M714.6 154.4h0M763.1 162.9h0M772.3 170.5h0M762.3 169.9h0M754.2 167.8h0M746.1 175.5h0M756.5 169.3h0M745.7 172.9h0M749.6 171.4h0M747.2 153.6h0M751.7 163.3h0M749.9 158.6h0M765.9 173.5h0M745.7 160.2h0M753.4 155.9h0M756.5 153.4h0M766.0 160.4h0M744.4 159.9h0M742.0 176.9h0M750.3 160.1h0M743.7 159.0h0M761.3 166.6h0M759.7 176.2h0M749.7 153.5h0M751.5 176.5h0M741.4 145.9h0M754.5 150.5h0M770.4 164.4h0M742.0 148.9h0M774.4 176.2h0M760.5 165.8h0M762.6 150.3h0M781.5 149.6h0M797.4 174.5h0M786.6 148.0h0M781.5 174.8h0M794.6 162.0h0M787.8 150.2h0M812.5 176.8h0M796.0 153.2h0M795.3 146.3h0M778.0 167.5h0M791.4 152.4h0M777.3 165.7h0M856.1 161.0h0M582.1 201.8h0M598.7 206.2h0M625.9 184.9h0M617.6 180.3h0M621.5 204.6h0M615.4 195.3h0M628.8 209.2h0M613.8 207.2h0M607.7 200.5h0M625.0 189.4h0M628.8 206.0h0M613.8 205.7h0M594.9 195.4h0M627.0 195.3h0M646.5 191.2h0M651.6 200.6h0M662.7 190.8h0M641.8 192.0h0M639.2 194.1h0M648.6 181.1h0M657.2 177.8h0M659.9 188.4h0M646.3 207.0h0M644.4 178.9h0M634.9 203.3h0M644.4 178.6h0M662.0 194.8h0M651.7 190.6h0M644.5 180.3h0M651.6 182.8h0M635.0 189.0h0M632.1 179.0h0M648.6 191.9h0M655.9 178.9h0M659.0 192.3h0M645.9 193.5h0M630.7 206.8h0M641.2 185.4h0M631.1 195.7h0M657.1 185.5h0M647.6 196.5h0M655.1 199.3h0M659.4 180.7h0M636.2 198.5h0M643.6 197.2h0M631.3 188.7h0M661.5 195.6h0M647.0 194.8h0M679.6 178.2h0M666.3 191.0h0M678.6 178.6h0M667.1 190.0h0M674.3 183.4h0M758.0 180.7h0M762.2 201.2h0M768.1 182.5h0M760.1 194.9h0M770.7 190.2h0M746.9 188.8h0M775.8 195.2h0M765.8 199.9h0M759.8 184.8h0M754.0 194.8h0M762.1 178.5h0M773.0 201.1h0M770.8 200.6h0M750.1 180.8h0M764.2 183.5h0M767.7 200.6h0M750.5 180.4h0M754.5 178.0h0M764.8 202.1h0M762.7 187.6h0M746.6 188.2h0M787.3 210.6h0M787.0 187.8h0M789.3 208.0h0M802.8 196.6h0M776.8 198.1h0M793.1 183.0h0M788.7 188.6h0M805.2 210.4h0M791.0 201.5h0M787.3 190.8h0M776.8 196.9h0M787.0 199.9h0M787.6 201.3h0M797.7 206.6h0M825.3 201.3h0M830.1 210.5h0M815.7 199.3h0M822.9 191.3h0M817.7 201.2h0M875.9 192.0h0M879.0 205.1h0M582.4 240.8h0M620.2 218.7h0M609.1 232.8h0M604.5 242.1h0M617.1 231.2h0M609.2 217.8h0M620.7 215.6h0M619.4 234.1h0M615.1 223.5h0M611.8 216.2h0M620.8 212.7h0M604.8 224.5h0M599.1 220.5h0M612.5 218.8h0M594.6 223.7h0M621.4 237.1h0M618.0 220.8h0M615.0 221.9h0M624.3 227.4h0M611.7 236.4h0M625.1 224.8h0M605.3 218.5h0M628.2 225.0h0M609.0 230.7h0M611.1 216.1h0M625.6 235.1h0M617.8 241.3h0M623.1 214.2h0M594.9 212.2h0M620.0 240.1h0M603.4 240.0h0M609.1 231.9h0M630.3 224.0h0M640.9 211.5h0M637.0 217.7h0M630.8 222.2h0M641.2 212.3h0M638.1 215.7h0M629.9 224.9h0M634.5 217.0h0M770.3 213.0h0M795.0 242.3h0M803.3 229.2h0M794.2 223.9h0M794.6 228.7h0M789.4 241.5h0M781.3 232.8h0M792.4 231.6h0M796.5 210.9h0M786.9 238.7h0M807.5 231.1h0M793.9 230.9h0M799.3 216.5h0M787.3 222.2h0M800.0 233.5h0M787.5 230.5h0M809.9 235.6h0M790.4 241.7h0M780.1 235.6h0M780.8 241.8h0M809.1 210.8h0M797.8 231.3h0M793.3 231.9h0M791.9 219.3h0M783.4 237.2h0M786.6 213.2h0M793.0 222.7h0M792.3 223.9h0M806.2 233.9h0M793.6 235.1h0M808.6 229.6h0M800.2 230.1h0M788.0 234.4h0M800.2 228.8h0M778.9 235.5h0M791.6 212.6h0M784.8 238.1h0M782.0 218.3h0M808.2 241.1h0M790.7 216.6h0M806.5 219.8h0M809.7 221.9h0M804.9 221.5h0M842.8 223.4h0M836.4 212.8h0M825.7 227.6h0M824.1 234.5h0M831.2 241.2h0M840.9 213.3h0M818.4 234.6h0M826.2 241.7h0M822.1 214.7h0M847.9 212.3h0M826.9 222.7h0M814.0 234.5h0M852.5 233.0h0M880.9 214.8h0M877.2 215.6h0M864.7 227.3h0M874.2 234.1h0M868.9 224.9h0M563.2 256.5h0M622.4 257.9h0M609.5 246.9h0M612.4 262.6h0M612.5 248.9h0M615.3 274.7h0M614.8 264.8h0M611.1 254.7h0M618.9 273.9h0M606.7 253.3h0M607.0 269.5h0M623.4 263.1h0M594.3 270.7h0M602.4 262.6h0M600.9 263.3h0M616.3 248.6h0M620.0 244.4h0M613.2 266.1h0M767.6 271.3h0M774.5 245.4h0M766.0 275.7h0M761.3 274.7h0M767.3 275.6h0M771.9 253.0h0M772.6 252.5h0M775.0 246.2h0M775.5 255.5h0M785.7 246.4h0M777.9 265.2h0M777.8 272.0h0M800.7 275.9h0M796.8 262.8h0M796.9 257.1h0M811.2 260.6h0M802.0 262.7h0M781.7 251.1h0M782.0 254.6h0M785.1 247.3h0M781.2 256.1h0M809.3 260.8h0M795.5 250.6h0M784.9 249.4h0M797.8 252.5h0M777.5 252.1h0M792.0 265.2h0M779.1 271.8h0M795.0 273.9h0M781.3 248.9h0M780.1 248.5h0M782.1 251.6h0M799.9 260.7h0M779.9 262.6h0M779.7 265.7h0M777.0 255.8h0M799.2 253.2h0M785.2 273.1h0M780.3 263.3h0M783.8 270.3h0M804.0 244.5h0M803.7 248.5h0M788.9 266.1h0M787.9 267.2h0M832.0 261.7h0M826.7 253.7h0M823.0 268.6h0M821.6 254.1h0M836.1 256.7h0M822.3 270.4h0M812.8 253.5h0M817.1 268.1h0M835.2 272.5h0M822.0 254.4h0M605.7 288.9h0M607.8 283.1h0M605.7 293.8h0M624.1 287.8h0M609.5 301.7h0M627.1 287.9h0M628.4 290.5h0M617.9 291.2h0M606.8 295.0h0M615.1 293.6h0M605.7 296.5h0M618.1 278.5h0M627.1 290.9h0M624.7 295.9h0M605.3 308.9h0M623.4 293.5h0M614.1 282.2h0M616.9 293.8h0M613.9 305.0h0M599.6 294.0h0M608.1 286.6h0M620.6 290.4h0M632.0 309.5h0M631.6 301.7h0M628.9 295.6h0M631.7 309.1h0M734.8 300.4h0M735.8 309.3h0M734.8 300.8h0M765.2 293.5h0M769.8 287.0h0M765.7 288.1h0M774.4 292.9h0M752.9 300.1h0M753.0 307.2h0M741.8 291.3h0M766.4 298.3h0M773.3 287.5h0M771.6 296.1h0M768.9 301.0h0M758.7 289.1h0M767.3 280.7h0M756.7 303.4h0M764.1 290.7h0M772.8 279.8h0M747.2 281.1h0M744.8 309.2h0M771.6 300.4h0M774.3 278.9h0M748.7 296.3h0M769.6 309.5h0M769.9 305.5h0M755.8 278.2h0M773.5 283.7h0M756.0 303.7h0M757.6 302.6h0M755.9 308.1h0M768.8 306.9h0M770.9 287.1h0M774.3 305.6h0M751.7 303.2h0M772.9 307.6h0M763.4 278.4h0M775.5 305.3h0M757.5 304.8h0M772.9 281.9h0M771.1 298.1h0M756.5 278.1h0M774.6 303.1h0M766.2 306.1h0M790.4 306.9h0M778.0 284.2h0M797.2 283.9h0M793.9 281.3h0M792.6 281.5h0M778.9 302.4h0M780.8 277.8h0M807.4 303.3h0M777.4 299.4h0M798.0 286.6h0M804.3 281.8h0M791.6 277.3h0M801.2 289.1h0M812.0 289.9h0M783.6 301.0h0M781.0 285.5h0M782.5 301.8h0M802.0 291.7h0M804.7 286.6h0M793.1 282.6h0M796.5 283.1h0M793.6 278.5h0M787.9 285.6h0M800.9 296.3h0M794.2 284.9h0M815.8 283.4h0M850.0 300.5h0M858.0 299.2h0M873.6 304.1h0M615.2 314.5h0M616.5 316.2h0M592.8 332.6h0M600.9 316.2h0M627.6 323.0h0M626.5 341.3h0M630.4 341.5h0M659.5 329.3h0M638.0 326.5h0M648.3 328.4h0M664.9 331.7h0M650.3 335.0h0M656.2 335.3h0M646.3 329.3h0M644.3 325.7h0M649.1 331.3h0M650.4 339.3h0M665.1 338.8h0M683.8 337.4h0M671.5 338.1h0M691.7 337.7h0M672.8 341.2h0M666.4 335.5h0M697.2 333.9h0M670.7 333.4h0M689.3 333.7h0M683.1 341.1h0M690.0 334.3h0M691.1 342.0h0M698.1 333.2h0M699.0 337.3h0M699.7 329.7h0M719.8 321.5h0M737.8 321.2h0M722.4 325.6h0M728.7 320.0h0M703.1 337.3h0M736.2 325.5h0M734.7 339.8h0M725.6 336.9h0M738.6 320.0h0M710.8 327.7h0M725.0 323.8h0M710.9 332.2h0M729.9 336.4h0M732.6 324.5h0M731.3 316.0h0M721.9 341.5h0M707.3 334.1h0M704.9 332.0h0M723.3 338.9h0M732.7 322.7h0M723.7 314.9h0M726.5 329.0h0M732.0 332.1h0M723.1 332.5h0M711.6 340.7h0M734.8 325.7h0M703.0 339.8h0M727.1 313.0h0M737.0 334.5h0M712.5 340.6h0M711.5 340.3h0M705.2 332.6h0M726.5 323.6h0M731.4 325.3h0M706.1 334.5h0M729.9 339.8h0M727.6 309.9h0M734.6 333.0h0M723.5 332.4h0M704.3 338.3h0M755.9 323.6h0M756.5 316.4h0M759.2 318.7h0M744.7 330.2h0M744.5 327.7h0M742.9 332.3h0M762.6 339.1h0M772.3 333.0h0M769.4 326.1h0M773.3 342.2h0M743.7 335.6h0M741.3 333.2h0M743.4 312.0h0M755.5 323.4h0M753.6 328.9h0M747.6 317.7h0M770.0 313.8h0M759.2 314.9h0M749.7 315.0h0M747.0 334.8h0M747.0 342.2h0M744.5 324.2h0M742.6 319.7h0M759.2 321.4h0M741.9 313.1h0M797.7 321.8h0M800.3 315.7h0M786.9 315.1h0M781.4 332.2h0M788.7 315.5h0M780.3 324.2h0M780.6 313.7h0M776.2 329.5h0M800.1 319.2h0M791.5 325.8h0M788.3 315.1h0M790.2 318.1h0M819.1 331.0h0M813.8 322.3h0M574.8 347.4h0M605.8 373.9h0M607.0 358.2h0M649.0 355.9h0M649.3 355.8h0M648.0 344.6h0M655.0 358.7h0M650.5 369.8h0M640.1 353.0h0M639.3 342.7h0M643.3 343.6h0M692.7 364.6h0M700.3 353.8h0M672.0 359.0h0M683.4 369.8h0M689.6 353.6h0M668.1 344.5h0M696.0 347.1h0M670.3 349.9h0M669.7 366.0h0M682.7 360.6h0M681.9 351.9h0M676.2 370.0h0M700.8 361.1h0M694.6 352.3h0M681.2 354.5h0M681.6 374.3h0M679.9 375.3h0M678.6 355.6h0M673.9 361.7h0M667.6 370.8h0M688.5 372.2h0M701.1 355.2h0M691.7 370.4h0M693.0 349.9h0M711.5 373.9h0M736.7 348.4h0M720.6 355.0h0M715.3 353.9h0M727.5 363.9h0M728.6 343.7h0M718.7 357.5h0M719.2 361.0h0M719.2 368.4h0M719.2 344.6h0M705.1 370.5h0M712.2 344.7h0M722.5 354.3h0M721.1 362.8h0M735.2 344.6h0M709.9 349.7h0M710.7 357.8h0M709.3 347.5h0M703.8 358.0h0M706.3 354.2h0M714.6 346.1h0M704.5 349.3h0M714.8 359.1h0M715.8 353.9h0M731.9 361.2h0M708.0 360.2h0M731.7 358.2h0M718.8 349.0h0M722.7 366.5h0M772.1 348.5h0M739.6 361.3h0M748.7 345.7h0M751.4 343.6h0M777.0 374.0h0M610.0 375.5h0M621.4 375.5h0M598.0 375.5h0M636.3 375.5h0M631.6 375.5h0M668.4 375.5h0M717.6 375.5h0M721.7 375.5h0M760.2 375.5h0M676.2 333.3h0M761.0 194.1h0M746.9 179.1h0M609.8 252.0h0M708.5 344.0h0M621.7 277.2h0M629.3 295.5h0M611.0 296.7h0M659.5 338.4h0M674.4 182.1h0M747.9 334.2h0M628.5 325.9h0M727.4 153.3h0M696.7 333.6h0M776.9 198.9h0M694.2 128.0h0M680.4 161.1h0M633.0 208.0h0M784.2 213.6h0M766.4 279.5h0M699.1 346.0h0M754.0 329.6h0M763.1 191.6h0M662.8 182.1h0M756.9 308.4h0M770.0 186.5h0M651.0 199.8h0M698.0 160.2h0M671.8 334.1h0M627.0 300.7h0M647.4 178.1h0M722.6 328.7h0M621.2 296.9h0M609.5 272.1h0M621.2 313.6h0M710.3 154.5h0M619.9 316.3h0M633.3 328.5h0M762.1 189.3h0M782.2 217.6h0M657.8 169.6h0M698.4 333.5h0M690.0 359.3h0M750.4 314.7h0M630.9 201.0h0M700.2 334.2h0M619.0 281.0h0M615.8 252.2h0M641.2 334.4h0M611.3 232.9h0M610.9 266.9h0M623.5 254.6h0M695.7 346.8h0M697.3 159.2h0M766.2 179.7h0M675.4 344.3h0M668.8 337.1h0M647.9 187.6h0M653.1 338.1h0M683.4 346.5h0M640.6 182.6h0M612.0 273.7h0M711.9 168.3h0M698.9 329.7h0M776.4 189.4h0M669.4 346.2h0M702.1 343.7h0M615.7 246.4h0M634.2 325.5h0M634.5 330.5h0M605.8 242.3h0M743.8 290.2h0M675.2 167.6h0M635.1 171.1h0M625.6 212.9h0M717.9 321.6h0M659.7 192.9h0M679.8 344.6h0M752.2 296.5h0M796.9 233.9h0M682.1 159.2h0M621.2 229.5h0M613.5 312.8h0M619.7 267.8h0M677.7 166.7h0M704.6 156.8h0M771.9 209.2h0M781.5 206.0h0M682.1 172.5h0M778.3 201.8h0M643.4 331.6h0M634.8 333.0h0M768.2 276.3h0M760.0 180.4h0M742.1 169.5h0M613.7 236.7h0M769.5 205.5h0M605.3 246.1h0M747.8 308.9h0M612.3 289.7h0M759.2 185.3h0M713.6 158.1h0M707.0 366.0h0M615.3 258.8h0M645.4 208.5h0M593.9 266.8h0M609.9 310.8h0M625.1 335.4h0M612.9 286.9h0M685.6 333.8h0M662.9 343.0h0M686.5 142.4h0M760.8 191.9h0M644.3 329.5h0M769.5 195.7h0M632.8 304.9h0M620.3 300.2h0M673.3 346.1h0M612.2 257.5h0M708.1 158.0h0M626.2 232.2h0M638.7 323.8h0M687.0 167.2h0M773.4 182.9h0M783.0 194.6h0M705.0 160.6h0M612.7 299.2h0M743.3 185.8h0M617.3 236.5h0M637.5 200.3h0M750.4 176.4h0M764.6 192.3h0M638.8 318.9h0M614.6 233.5h0M689.6 335.5h0M693.6 336.5h0M631.5 333.9h0M657.5 181.0h0M626.1 220.9h0M618.3 309.2h0M654.8 190.0h0M774.4 201.7h0M657.5 340.0h0M622.0 252.8h0M617.2 207.7h0M630.7 314.4h0M740.0 322.7h0M606.1 237.5h0M594.1 240.4h0M628.5 309.6h0M769.3 204.6h0M757.1 164.6h0M670.6 153.7h0M755.3 191.5h0M611.3 275.4h0M623.5 215.6h0M724.6 315.2h0M757.9 196.3h0M636.9 330.5h0M633.5 220.1h0M627.7 318.2h0M642.2 327.1h0M622.3 317.7h0M766.3 174.1h0M626.7 307.1h0M654.6 330.6h0M623.0 260.8h0M749.3 182.8h0M619.1 359.3h0M618.4 293.8h0M783.3 218.6h0M620.2 259.1h0M666.2 173.7h0M642.6 170.9h0M674.1 172.6h0M697.3 145.0h0M800.4 232.0h0M632.2 303.3h0M601.8 208.5h0M767.1 275.3h0M718.6 321.2h0M613.7 279.1h0M651.2 353.4h0M668.6 330.7h0M726.0 162.3h0M779.5 212.3h0M790.7 225.7h0M613.2 271.0h0M622.7 302.6h0M670.9 170.2h0M611.3 298.9h0M754.3 181.5h0M700.0 151.6h0M630.0 324.4h0M616.4 271.1h0M703.1 330.2h0M691.5 141.6h0M653.7 163.3h0M721.4 147.6h0M654.2 200.4h0M739.0 182.0h0M632.6 197.0h0M742.4 326.4h0M791.0 223.1h0M620.6 265.1h0M781.4 243.2h0M631.4 302.1h0M676.1 332.9h0M618.9 216.4h0M700.1 353.2h0M779.8 211.6h0M630.0 326.4h0M718.2 150.5h0M645.0 327.1h0M657.8 349.2h0M748.6 167.9h0M618.3 239.9h0M687.0 163.6h0M628.9 323.4h0M618.2 247.2h0M786.7 220.5h0M759.6 306.0h0M669.6 330.1h0M785.2 212.4h0M771.8 223.4h0M671.7 344.7h0M658.1 329.5h0M620.8 263.7h0M674.0 176.5h0M735.7 308.6h0M775.1 204.1h0M709.6 329.2h0M692.7 157.5h0M604.3 278.2h0M622.6 233.1h0M664.5 358.6h0M650.4 189.1h0M611.6 262.2h0M607.9 253.1h0M773.7 189.5h0M725.8 315.0h0M790.9 219.7h0M662.4 176.9h0M682.3 168.7h0M683.9 170.0h0M607.3 256.4h0M685.7 332.8h0M681.2 346.7h0M679.8 331.1h0M624.2 310.9h0M640.7 329.4h0M621.8 321.1h0M714.6 334.4h0M676.9 343.7h0M620.3 271.1h0M755.0 185.4h0M763.4 287.1h0M704.0 143.5h0M721.2 155.2h0M729.3 163.0h0M662.5 189.2h0M649.8 201.6h0M704.2 343.9h0M677.3 348.6h0M620.2 219.4h0M612.7 260.6h0M607.5 288.1h0M765.5 196.0h0M732.3 329.9h0M680.2 170.1h0M776.8 272.1h0M620.0 293.4h0M766.9 299.6h0M727.4 338.3h0M748.4 315.6h0M736.4 309.3h0M666.5 167.0h0M682.0 159.7h0M643.2 175.3h0M656.4 340.0h0M643.0 349.9h0M687.3 170.1h0M709.4 161.4h0M763.1 176.5h0M649.3 329.7h0M781.3 213.4h0M724.6 319.9h0M673.9 172.7h0M624.9 294.8h0M624.9 221.2h0M624.1 336.3h0M664.1 332.6h0M680.9 342.9h0M747.2 314.0h0M657.1 331.3h0M742.8 323.4h0M651.4 184.8h0M792.0 218.6h0M610.7 208.1h0M624.2 321.2h0M740.2 310.2h0M615.9 238.0h0M629.6 312.5h0M614.4 281.9h0M751.4 304.0h0M618.6 260.3h0M621.6 279.3h0M633.8 197.9h0M648.9 197.5h0M615.9 282.2h0M616.5 270.2h0M749.1 180.1h0M708.9 337.5h0M646.4 336.5h0M730.9 157.8h0M786.4 216.8h0M743.2 287.8h0M765.6 206.3h0M683.5 168.4h0M726.8 153.1h0M658.3 196.8h0M743.7 166.0h0M702.0 339.5h0M688.1 157.2h0M603.3 247.2h0M700.3 163.4h0M606.7 254.5h0M648.1 341.2h0M681.8 332.0h0M756.1 195.7h0M652.3 338.2h0M585.0 250.5h0M620.9 286.7h0M766.3 199.9h0M769.7 213.5h0M784.0 233.5h0M716.0 344.1h0M711.9 337.1h0M716.1 339.4h0M653.3 195.0h0M622.0 241.1h0M655.8 174.5h0M655.2 357.3h0M671.0 162.2h0M681.8 337.2h0M624.7 295.3h0M663.6 168.4h0M707.6 343.0h0M618.9 252.7h0M788.5 190.3h0M660.1 342.7h0M619.9 230.9h0M611.9 272.2h0M652.8 353.8h0M610.3 256.1h0M608.5 248.6h0M713.8 350.1h0M657.6 164.5h0M649.7 340.0h0M769.1 206.4h0M615.8 282.1h0M627.8 194.9h0M634.5 310.7h0M684.0 159.7h0M639.5 343.4h0M786.0 221.5h0M626.6 299.7h0M614.9 266.7h0M619.9 283.8h0M640.7 331.2h0M715.8 348.8h0M639.8 327.7h0M667.9 343.2h0M769.4 184.5h0M686.9 164.1h0M661.5 181.8h0M694.8 347.6h0M691.8 157.7h0M671.9 186.6h0M655.2 190.5h0M710.6 163.2h0M644.9 343.2h0M690.9 161.8h0M787.1 201.7h0M765.9 188.7h0M616.7 246.8h0M658.1 172.6h0M755.2 189.5h0M647.6 180.9h0M778.8 244.3h0M690.0 338.8h0M630.2 204.7h0M601.6 231.7h0M687.6 166.0h0M755.7 196.5h0M810.4 228.0h0M769.1 195.8h0M621.2 273.5h0M616.5 299.8h0M729.2 314.0h0M668.7 164.5h0M655.8 191.6h0M624.2 241.2h0M675.1 170.1h0M683.0 151.3h0M609.6 246.0h0M755.4 184.1h0M635.1 344.7h0M618.4 231.0h0M680.5 341.8h0M784.6 245.8h0M677.8 178.0h0M699.3 159.9h0M634.9 204.4h0M743.6 173.4h0M716.1 348.0h0M644.1 333.6h0M763.6 288.3h0M607.3 290.6h0M636.1 319.0h0M615.4 292.2h0M706.3 340.8h0M613.6 236.7h0M759.9 184.6h0M722.7 158.1h0M627.7 328.7h0M778.5 202.9h0M745.0 158.9h0M617.7 271.8h0M678.6 338.7h0M706.4 152.3h0M655.3 338.9h0M606.7 225.0h0" stroke="#999999" stroke-width="4.6" stroke-linecap="round" fill="none"/>
<path d="M691.3 311.1h0M694.8 295.4h0M642.0 285.4h0M697.5 298.8h0M669.4 281.3h0M622.1 314.9h0M642.2 254.5h0M659.2 298.0h0M719.1 215.3h0M657.9 327.4h0M663.9 298.9h0M678.3 229.2h0M653.6 375.5h0M674.3 300.0h0M694.2 300.8h0M688.1 284.4h0M651.3 293.5h0M633.7 295.5h0M770.1 261.9h0M624.2 365.4h0M682.5 285.4h0M725.6 309.9h0M696.3 330.7h0M640.8 375.5h0M659.4 304.3h0M674.6 151.1h0M699.4 248.3h0M692.8 221.8h0M713.3 306.7h0M629.6 197.7h0M684.2 313.8h0M628.8 219.9h0M660.2 278.3h0M656.3 287.1h0M670.0 205.1h0M637.2 269.6h0M706.2 126.9h0M694.3 296.6h0M680.0 287.4h0M656.3 291.6h0M700.4 287.1h0M643.8 340.7h0M699.0 344.9h0M611.8 375.5h0M661.9 322.9h0M657.8 294.1h0M647.9 299.5h0M627.3 332.5h0M726.6 375.5h0M660.1 327.9h0M652.6 323.0h0M686.8 286.3h0M678.3 321.2h0M666.6 314.2h0M684.4 285.0h0M634.0 317.2h0M630.2 336.7h0M665.5 308.3h0M683.4 304.9h0M703.4 329.8h0M691.9 320.3h0M693.5 252.2h0M705.7 346.5h0M653.4 280.1h0M672.2 294.9h0M668.0 273.3h0M686.7 302.3h0M749.9 338.1h0M699.3 302.8h0M642.9 279.3h0M659.0 323.0h0M628.5 305.9h0M675.1 196.8h0M644.9 375.5h0M667.6 252.0h0M690.2 309.6h0M683.5 292.8h0M676.6 300.3h0M652.0 316.5h0M671.3 311.3h0M555.3 282.8h0M637.4 308.7h0M666.2 331.5h0M658.4 299.2h0M660.4 316.0h0M657.9 323.2h0M661.6 326.0h0M665.3 345.7h0M622.9 339.2h0M656.7 277.8h0M650.3 347.1h0M690.7 315.9h0M637.8 300.2h0M768.7 259.9h0M686.6 323.8h0M711.7 373.4h0M643.9 319.6h0M642.5 290.1h0M704.8 375.5h0M733.4 111.5h0M710.3 293.5h0M682.9 334.1h0M713.7 272.5h0M676.8 319.3h0M650.8 316.1h0M648.6 291.0h0M664.1 324.2h0M635.9 302.1h0M684.2 305.2h0M660.7 369.2h0M630.8 300.5h0M732.0 375.5h0M618.3 310.2h0M636.6 296.3h0M688.2 347.0h0M641.6 343.7h0" stroke="#DA5B00" stroke-width="4.6" stroke-linecap="round" fill="none"/>
<path d="M644.9 312.5h0M604.1 289.8h0M620.9 256.7h0M643.1 265.2h0M634.8 323.1h0M684.8 242.9h0M644.3 280.4h0M632.2 255.2h0M609.9 320.3h0M646.1 273.1h0M659.4 257.7h0M635.1 306.2h0M604.9 375.2h0M628.5 271.6h0M629.8 330.9h0M638.8 279.0h0M641.4 277.6h0M636.7 283.5h0M621.6 334.9h0M596.7 279.5h0M628.9 322.9h0M606.8 291.4h0M619.9 292.0h0M666.9 209.3h0M654.9 319.6h0M628.1 280.6h0M632.4 275.3h0M728.5 159.7h0M621.3 278.0h0M636.7 265.6h0M643.1 311.4h0M771.6 296.1h0M793.9 230.9h0M633.3 317.8h0M671.0 313.4h0M599.1 220.5h0M665.6 139.2h0M634.1 273.8h0M649.7 306.9h0M627.3 286.8h0M673.3 300.5h0M643.8 316.6h0M641.6 284.5h0M627.9 288.9h0M623.6 297.2h0M632.0 302.0h0M642.8 315.6h0M632.8 281.2h0M631.5 289.9h0M646.9 309.8h0M650.9 308.1h0M657.7 262.8h0M618.7 286.9h0M645.3 299.5h0M621.2 255.3h0M614.7 249.9h0M620.1 282.2h0M663.2 279.9h0M678.1 279.2h0M610.3 265.1h0M650.6 287.7h0M729.9 336.4h0M654.4 298.7h0M637.6 315.8h0M636.2 287.5h0M680.9 268.1h0M649.6 249.7h0M616.2 307.3h0M613.4 287.6h0M618.4 276.5h0M638.2 293.7h0M623.5 318.3h0M628.6 287.1h0M631.5 272.3h0M645.6 257.8h0M642.8 260.8h0M642.9 311.7h0" stroke="#FFBB00" stroke-width="4.6" stroke-linecap="round" fill="none"/>
<path d="M702.2 313.4h0M664.9 290.0h0M616.4 305.4h0M658.6 291.2h0M670.9 295.3h0M726.9 274.0h0M656.1 323.3h0M618.3 322.5h0M806.6 346.8h0M652.2 311.4h0M619.3 295.0h0M661.4 304.9h0M670.0 320.0h0M682.6 255.9h0M693.3 279.2h0M667.4 325.7h0M672.5 301.2h0M675.3 316.2h0M638.7 321.7h0M651.8 328.2h0M674.4 348.4h0M680.8 219.6h0M670.7 302.7h0M708.2 298.3h0M729.9 285.9h0M645.2 335.0h0M699.1 323.9h0M665.4 343.9h0M635.8 342.3h0M604.0 276.5h0M680.2 332.6h0M625.9 313.4h0M656.1 335.8h0M656.6 311.4h0M691.6 302.6h0M609.8 307.2h0M684.8 288.9h0M683.7 250.5h0M742.5 234.3h0M710.9 323.9h0M636.1 297.1h0M670.3 349.9h0M628.0 286.7h0M661.5 236.7h0M715.8 171.4h0M679.2 311.2h0M662.6 326.0h0M673.1 336.1h0M645.0 323.1h0M675.5 328.8h0M664.8 294.2h0M670.7 132.9h0M672.6 287.8h0M711.5 312.7h0M641.2 185.4h0M679.6 310.9h0M697.9 203.2h0M663.3 309.7h0M701.2 327.3h0M696.8 236.0h0M712.4 115.0h0M650.5 352.7h0M644.6 310.3h0M659.2 296.9h0M702.5 275.1h0M727.7 200.7h0M677.6 289.1h0M674.7 300.6h0M702.8 196.1h0M687.8 285.4h0M653.9 316.3h0M703.2 261.1h0M641.2 301.8h0M674.7 313.3h0M738.8 290.6h0M640.9 323.4h0M701.8 293.7h0M670.9 276.3h0M641.1 332.9h0M624.2 244.2h0M681.9 318.7h0M720.3 258.0h0M689.9 310.8h0M639.5 306.5h0M646.1 289.5h0M658.6 302.1h0M662.5 375.5h0M634.9 299.6h0M705.4 126.3h0M664.6 375.5h0M647.6 293.7h0M650.3 302.7h0M749.3 320.7h0M676.7 297.1h0M621.1 225.4h0M645.3 321.1h0M651.5 311.4h0M694.1 309.0h0M701.3 332.2h0M640.2 311.8h0M653.6 322.3h0M648.6 323.0h0M695.3 354.4h0M692.7 329.8h0M649.2 319.1h0M677.7 349.0h0M679.2 328.0h0M617.8 283.6h0M696.1 295.0h0M678.2 280.4h0M659.7 292.5h0M704.0 333.2h0M652.5 329.5h0M679.7 310.8h0M566.6 298.7h0M700.5 293.9h0" stroke="#DA5B00" stroke-width="4.6" stroke-linecap="round" fill="none"/>
<path d="M633.4 338.1h0M627.8 299.8h0M610.1 265.3h0M624.6 330.0h0M638.3 286.5h0M624.1 265.7h0M651.3 261.8h0M621.9 290.4h0M631.8 258.8h0M650.2 299.9h0M659.2 301.7h0M610.1 300.0h0M584.1 316.7h0M640.8 280.8h0M640.4 284.8h0M635.8 297.1h0M648.8 323.5h0M640.8 270.6h0M625.0 301.0h0M622.9 303.7h0M636.9 327.0h0M669.7 366.0h0M621.9 270.3h0M674.8 325.7h0M602.4 343.5h0M613.6 305.7h0M648.5 303.6h0M633.5 290.5h0M613.6 169.5h0M645.9 303.1h0M663.4 316.7h0M630.2 273.6h0M623.8 283.4h0M710.7 128.5h0M625.9 269.7h0M618.0 295.2h0M648.8 304.2h0M633.8 306.6h0M760.6 281.0h0M662.9 324.5h0M623.5 281.0h0M632.8 298.7h0M639.1 304.7h0M645.2 289.0h0M635.3 273.1h0M706.2 151.4h0M681.3 259.3h0M643.0 302.1h0M631.8 282.3h0M621.0 269.4h0M623.9 306.2h0M617.5 282.4h0M629.0 276.0h0M703.8 155.3h0M690.9 318.6h0M627.4 302.5h0M665.1 269.6h0M634.0 267.5h0M640.5 268.4h0M617.6 309.8h0M639.3 272.3h0M615.3 301.4h0M742.6 319.7h0M619.4 252.9h0M620.7 308.5h0M588.1 269.8h0M629.5 289.0h0M625.6 297.5h0M650.9 256.8h0M629.3 292.1h0M623.0 248.8h0M617.1 336.8h0M623.6 331.5h0M640.0 278.4h0M656.2 300.0h0M635.3 290.8h0M613.0 277.5h0" stroke="#FFBB00" stroke-width="4.6" stroke-linecap="round" fill="none"/>
<path d="M674.5 290.3h0M686.6 145.3h0M672.9 291.3h0M698.6 283.8h0M704.8 332.2h0M675.5 328.9h0M666.5 328.1h0M699.0 335.9h0M715.3 218.2h0M672.2 273.6h0M715.0 287.9h0M664.0 302.0h0M663.5 314.1h0M641.6 318.3h0M670.7 327.8h0M760.2 281.4h0M640.1 301.8h0M687.0 301.0h0M709.0 308.9h0M670.7 321.0h0M604.4 375.5h0M691.0 222.8h0M601.0 277.5h0M665.3 305.6h0M678.8 309.2h0M648.0 323.5h0M629.6 328.2h0M703.9 285.6h0M675.2 282.5h0M614.1 282.2h0M655.5 312.7h0M674.2 304.2h0M647.3 315.2h0M683.6 269.0h0M695.4 316.7h0M684.1 312.5h0M644.4 178.6h0M645.9 284.2h0M708.5 227.2h0M657.1 319.2h0M703.5 316.7h0M683.9 269.5h0M672.4 356.2h0M715.4 273.5h0M640.8 293.3h0M743.3 309.7h0M714.0 334.8h0M717.7 318.8h0M678.3 305.2h0M664.1 315.2h0M670.6 339.2h0M652.7 295.8h0M788.3 315.1h0M663.0 308.8h0M772.1 268.4h0M661.5 346.2h0M670.4 314.1h0M677.9 300.2h0M666.9 329.3h0M647.2 307.8h0M622.5 375.5h0M658.3 326.9h0M674.2 305.4h0M666.5 292.6h0M654.6 326.7h0M672.9 277.3h0M702.5 322.6h0M745.4 348.1h0M662.3 316.2h0M665.4 336.0h0M655.4 295.9h0M665.5 322.8h0M649.2 297.6h0M692.5 269.1h0M671.1 306.8h0M700.7 375.5h0M641.4 322.0h0M648.6 273.4h0M687.3 328.0h0M651.6 310.0h0M837.4 360.7h0M662.3 316.4h0M629.6 315.9h0M558.0 228.9h0M683.2 321.0h0M670.1 323.3h0M715.8 257.9h0M683.9 271.9h0M702.5 296.8h0M699.1 287.7h0M693.3 296.5h0M655.7 187.3h0M663.2 314.2h0M743.9 310.7h0M663.4 293.4h0M729.0 231.2h0M705.1 306.5h0M696.0 325.3h0M629.5 214.6h0M656.4 304.0h0M703.3 298.9h0M684.9 257.2h0M641.8 328.5h0M619.9 267.0h0M673.4 312.8h0M663.5 244.1h0M693.0 319.4h0M680.5 312.8h0M657.5 302.0h0M686.6 302.9h0M633.3 323.4h0M620.8 346.2h0M672.2 323.1h0M665.1 325.9h0M699.2 324.5h0" stroke="#DA5B00" stroke-width="4.6" stroke-linecap="round" fill="none"/>
<path d="M614.2 302.7h0M631.4 283.0h0M613.6 315.0h0M570.2 375.5h0M644.3 311.8h0M622.0 297.8h0M659.8 252.3h0M581.1 265.6h0M660.3 270.1h0M644.3 304.1h0M621.9 277.9h0M693.7 232.5h0M657.3 273.5h0M615.5 295.6h0M644.2 272.0h0M676.3 295.9h0M624.4 294.4h0M625.9 292.3h0M642.8 298.1h0M671.8 266.5h0M609.0 276.8h0M638.5 292.6h0M654.8 296.1h0M631.2 297.8h0M638.3 274.0h0M610.3 278.3h0M643.0 304.4h0M768.9 301.0h0M630.0 305.3h0M635.6 325.8h0M688.9 277.1h0M609.9 279.3h0M643.4 337.6h0M647.7 291.1h0M606.7 277.9h0M630.3 309.8h0M643.5 238.1h0M631.4 293.8h0M622.2 281.0h0M625.3 291.1h0M662.8 296.1h0M633.3 263.8h0M751.4 234.4h0M618.5 285.7h0M645.8 320.0h0M629.4 298.6h0M649.6 218.0h0M646.1 182.1h0M624.8 277.2h0M643.7 334.8h0M623.2 348.9h0M640.8 308.7h0M652.4 293.9h0M588.6 283.9h0M646.8 319.9h0M615.4 313.2h0M636.7 264.6h0M632.4 317.6h0M598.3 285.2h0M611.2 295.1h0M628.0 294.6h0M624.7 300.6h0M641.6 262.9h0M621.6 291.5h0M612.1 282.0h0M631.2 312.5h0M693.7 238.6h0M622.3 281.3h0M642.5 282.2h0M627.5 287.0h0M628.3 273.9h0M622.4 312.9h0M617.4 270.8h0M654.6 295.7h0M643.2 289.7h0M630.0 291.5h0M767.3 263.6h0" stroke="#FFBB00" stroke-width="4.6" stroke-linecap="round" fill="none"/>
<path d="M704.1 312.3h0M697.1 297.2h0M645.5 315.5h0M643.7 314.9h0M617.9 303.9h0M614.4 308.5h0M668.9 291.8h0M701.0 286.4h0M700.2 285.0h0M670.2 297.8h0M668.9 296.3h0M707.1 335.0h0M707.2 329.4h0M639.7 256.9h0M640.4 256.9h0M643.6 262.8h0M646.0 267.6h0M721.5 216.4h0M719.7 213.0h0M718.2 217.0h0M635.9 289.2h0M636.7 285.2h0M642.3 310.3h0M687.0 241.3h0M684.4 240.3h0M656.4 251.7h0M663.4 252.6h0M629.8 256.1h0M630.9 252.8h0M679.9 228.0h0M680.6 229.9h0M620.8 288.4h0M619.7 293.2h0M663.8 307.3h0M659.4 308.1h0M653.4 301.7h0M647.5 299.2h0M670.9 302.0h0M698.1 300.1h0M695.9 278.6h0M693.2 281.4h0M674.2 327.6h0M672.1 325.3h0M632.5 304.7h0M636.0 293.7h0M693.2 228.9h0M691.5 232.0h0M654.9 276.0h0M648.0 327.7h0M725.8 313.4h0M725.8 312.8h0M677.8 311.7h0M679.8 306.5h0M623.8 294.5h0M626.6 289.9h0M647.5 337.2h0M698.9 252.2h0M621.9 301.4h0M696.5 325.2h0M662.8 344.7h0M663.1 342.6h0M700.1 286.8h0M678.5 282.4h0M674.0 284.8h0M625.5 220.3h0M631.3 218.2h0M675.8 306.0h0M672.5 306.0h0M668.4 207.4h0M691.6 304.7h0M690.3 305.2h0M682.7 292.0h0M696.3 294.5h0M692.1 293.7h0M664.4 211.5h0M665.8 206.2h0M654.9 316.5h0M655.5 321.8h0M654.6 316.4h0M658.5 316.9h0M704.1 286.3h0M646.5 302.1h0M647.1 305.3h0M642.8 300.4h0M640.2 303.5h0M717.1 169.7h0M718.7 170.1h0M661.6 294.1h0M661.0 293.4h0M661.8 323.6h0M714.2 338.4h0M712.2 337.0h0M647.6 301.0h0M642.5 305.1h0M642.7 324.1h0M661.9 313.9h0M662.1 295.5h0M662.7 295.1h0M675.7 318.7h0M675.8 323.5h0M668.7 312.4h0M644.5 340.5h0M648.2 302.1h0M650.1 306.6h0M675.9 302.9h0M681.4 302.9h0M641.6 235.9h0M634.1 309.2h0M663.2 321.6h0M662.4 326.5h0M626.7 281.2h0M673.9 309.3h0M673.6 309.1h0M704.8 275.0h0M703.3 271.6h0M727.1 198.2h0M731.3 201.6h0M616.5 282.9h0M705.0 321.2h0M703.0 320.3h0M634.4 275.8h0M638.5 272.7h0M665.2 332.8h0M664.0 337.8h0M626.9 296.9h0M628.8 301.2h0M654.2 319.7h0M626.4 302.8h0M704.1 263.5h0M665.3 326.3h0M666.9 325.4h0M641.5 304.5h0M643.6 300.1h0M671.5 311.0h0M675.2 316.5h0M741.2 288.4h0M741.5 289.2h0M638.3 323.8h0M639.6 325.2h0M651.2 310.3h0M679.5 299.2h0M670.2 307.8h0M673.1 312.6h0M681.4 320.8h0M683.9 321.1h0M668.0 334.9h0M643.8 308.0h0M619.9 290.0h0M646.3 297.1h0M642.9 300.9h0M702.1 153.3h0M647.2 322.1h0M692.7 298.8h0M632.4 269.3h0M632.5 320.6h0M632.4 320.6h0M743.0 312.9h0M623.4 225.0h0M648.6 319.2h0M648.1 318.6h0M654.0 312.2h0M693.7 312.0h0M641.0 268.9h0M615.5 304.9h0M618.3 300.9h0M699.9 300.5h0M638.9 313.8h0M636.8 317.7h0M617.3 251.7h0M645.1 326.3h0M644.2 327.9h0M674.5 320.0h0M677.8 321.1h0M633.6 309.5h0M629.5 313.9h0M626.7 287.9h0M627.3 287.0h0M694.4 235.5h0M690.9 237.4h0M623.3 300.6h0M620.7 275.1h0M683.5 313.8h0M680.9 309.7h0M628.7 294.1h0M628.4 294.4h0M660.8 303.8h0M631.4 275.0h0M620.3 318.2h0M622.9 321.7h0M627.2 299.2h0M628.4 298.1h0M631.9 270.1h0M634.9 272.1h0M636.5 276.9h0M658.7 301.5h0M658.7 302.9h0M643.1 258.3h0M672.7 326.4h0M632.4 288.7h0M631.5 294.8h0M629.8 288.0h0M668.2 324.7h0M666.1 323.9h0M612.3 281.3h0M769.4 263.6h0M769.8 266.3h0" stroke="#999999" stroke-width="4.6" stroke-linecap="round" fill="none"/>
<g fill="none" stroke="#2E2E2E" stroke-width="1.25"><path d="M657.2 232.6C657.9 227.0 659.3 221.8 662.7 216.7C666.1 211.6 672.6 205.6 677.5 201.9C682.4 198.2 687.4 195.9 692.3 194.5C697.2 193.1 701.8 193.0 707.1 193.5C712.4 194.0 718.7 193.8 724.0 197.7C729.3 201.6 735.7 211.8 738.9 216.7C742.1 221.6 742.5 223.1 743.4 227.0C744.3 230.9 744.5 234.7 744.1 240.0C743.7 245.3 742.6 254.5 741.0 259.0C739.4 263.5 737.4 263.8 734.6 267.0C731.8 270.2 728.6 274.7 724.4 278.3C720.2 281.9 714.3 286.1 709.2 288.4C704.1 290.7 699.1 292.6 694.0 292.2C688.9 291.8 683.5 289.5 678.8 285.9C674.1 282.3 669.4 276.5 666.0 270.6C662.6 264.7 660.0 256.7 658.5 250.4C657.0 244.1 656.5 238.2 657.2 232.6Z"/><path d="M670.1 240.0C670.8 231.9 674.1 222.5 677.5 216.7C680.9 210.9 685.5 207.5 690.2 205.1C695.0 202.7 699.3 200.8 706.0 202.0C712.7 203.2 725.3 206.5 730.4 212.5C735.5 218.5 736.7 229.4 736.7 237.9C736.7 246.4 734.3 256.6 730.4 263.3C726.5 270.0 719.9 275.6 713.5 278.0C707.1 280.4 699.0 280.1 692.3 278.0C685.6 275.9 677.0 271.7 673.3 265.4C669.6 259.1 669.4 248.1 670.1 240.0Z"/><ellipse cx="703.3" cy="240.8" rx="34.2" ry="28.5" transform="rotate(-75.0 703.3 240.8)"/><ellipse cx="703.3" cy="241.0" rx="29.2" ry="24.3" transform="rotate(-75.0 703.3 241.0)"/><ellipse cx="703.2" cy="241.3" rx="24.1" ry="20.1" transform="rotate(-75.0 703.2 241.3)"/><ellipse cx="703.2" cy="241.5" rx="20.3" ry="16.9" transform="rotate(-75.0 703.2 241.5)"/><ellipse cx="703.1" cy="241.8" rx="16.4" ry="13.7" transform="rotate(-75.0 703.1 241.8)"/><ellipse cx="703.1" cy="242.0" rx="12.7" ry="10.6" transform="rotate(-75.0 703.1 242.0)"/><ellipse cx="703.0" cy="242.3" rx="8.9" ry="7.4" transform="rotate(-75.0 703.0 242.3)"/><ellipse cx="703.0" cy="242.5" rx="5.0" ry="4.2" transform="rotate(-75.0 703.0 242.5)"/></g>
</g>
<path d="M555.30 391.4v2.8M533.30 375.50h2.8M628.84 391.4v2.8M533.30 309.60h2.8M702.38 391.4v2.8M533.30 243.70h2.8M775.92 391.4v2.8M533.30 177.80h2.8M849.46 391.4v2.8M533.30 111.90h2.8M923.00 391.4v2.8M533.30 46.00h2.8" stroke="#333333" stroke-width="1.1" fill="none"/>
<text x="555.30" y="410.3" text-anchor="middle" class="tk">-100</text>
<text x="531.20" y="382.40" text-anchor="end" class="tk">-100</text>
<text x="628.84" y="410.3" text-anchor="middle" class="tk">-50</text>
<text x="531.20" y="316.50" text-anchor="end" class="tk">-50</text>
<text x="702.38" y="410.3" text-anchor="middle" class="tk">0</text>
<text x="531.20" y="250.60" text-anchor="end" class="tk">0</text>
<text x="775.92" y="410.3" text-anchor="middle" class="tk">50</text>
<text x="531.20" y="184.70" text-anchor="end" class="tk">50</text>
<text x="849.46" y="410.3" text-anchor="middle" class="tk">100</text>
<text x="531.20" y="118.80" text-anchor="end" class="tk">100</text>
<text x="923.00" y="410.3" text-anchor="middle" class="tk">150</text>
<text x="531.20" y="52.90" text-anchor="end" class="tk">150</text>
<text x="738.55" y="20.2" text-anchor="middle" class="tt">Winter Wheat + Sugar Beet (n = 35,331)</text>
<text x="738.55" y="429.8" text-anchor="middle" class="at">Deviation of winter wheat yield (%)</text>
<text transform="translate(494.50 211.1) rotate(-90)" text-anchor="middle" class="yt">Deviation of sugar beet yield (%)</text>
<rect x="360.0" y="444.3" width="17.8" height="22.3" fill="#F2F2F2"/>
<circle cx="369.0" cy="456" r="2.2" fill="#FFBB00"/>
<text x="384.3" y="465.2" class="lg">2003</text>
<rect x="440.4" y="444.3" width="17.8" height="22.3" fill="#F2F2F2"/>
<circle cx="449.4" cy="456" r="2.2" fill="#DA5B00"/>
<text x="463.8" y="465.2" class="lg">2018</text>
<rect x="521.0" y="444.3" width="17.8" height="22.3" fill="#F2F2F2"/>
<circle cx="530.0" cy="456" r="2.2" fill="#999999"/>
<text x="544.1" y="465.2" class="lg">Rest</text>
</svg>
</body></html>
